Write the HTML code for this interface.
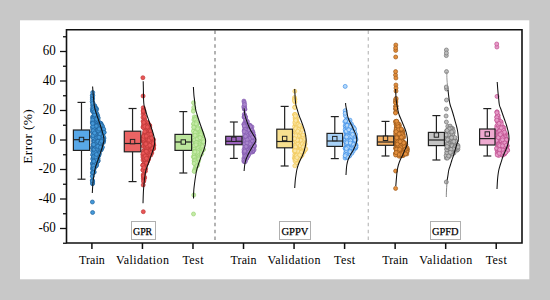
<!DOCTYPE html>
<html><head><meta charset="utf-8"><style>
html,body{margin:0;padding:0;width:550px;height:300px;overflow:hidden;background:#c8c8c8;font-family:"Liberation Serif",serif;}
</style></head><body>
<svg width="550" height="300" viewBox="0 0 550 300" style="position:absolute;left:0;top:0">
<rect x="0" y="0" width="550" height="300" fill="#c8c8c8"/>
<rect x="20" y="20.3" width="509.3" height="259" fill="#ffffff"/>
<line x1="215" y1="29.7" x2="215" y2="243" stroke="#8a8a8a" stroke-width="1.3" stroke-dasharray="3.5 3.367" stroke-dashoffset="6.067"/>
<line x1="368.3" y1="29.7" x2="368.3" y2="243" stroke="#c0c0c0" stroke-width="1.3" stroke-dasharray="3.5 3.367" stroke-dashoffset="6.067"/>
<g fill="#4498d8" stroke="#22649e" stroke-width="0.7"><circle cx="94.9" cy="114.6" r="2.0"/><circle cx="92.3" cy="180.2" r="2.0"/><circle cx="92.7" cy="118.2" r="2.0"/><circle cx="96.6" cy="148.2" r="2.0"/><circle cx="98.8" cy="149.0" r="2.0"/><circle cx="94.3" cy="172.1" r="2.0"/><circle cx="92.6" cy="117.0" r="2.0"/><circle cx="93.1" cy="148.8" r="2.0"/><circle cx="92.4" cy="147.7" r="2.0"/><circle cx="98.0" cy="160.6" r="2.0"/><circle cx="103.6" cy="140.8" r="2.0"/><circle cx="97.1" cy="117.4" r="2.0"/><circle cx="92.4" cy="111.0" r="2.0"/><circle cx="98.0" cy="123.5" r="2.0"/><circle cx="99.3" cy="131.3" r="2.0"/><circle cx="93.7" cy="128.9" r="2.0"/><circle cx="102.1" cy="127.3" r="2.0"/><circle cx="102.2" cy="138.1" r="2.0"/><circle cx="99.0" cy="146.6" r="2.0"/><circle cx="93.8" cy="112.8" r="2.0"/><circle cx="94.8" cy="128.9" r="2.0"/><circle cx="96.8" cy="157.4" r="2.0"/><circle cx="93.4" cy="129.5" r="2.0"/><circle cx="95.0" cy="165.5" r="2.0"/><circle cx="103.4" cy="132.3" r="2.0"/><circle cx="100.0" cy="149.5" r="2.0"/><circle cx="94.4" cy="106.7" r="2.0"/><circle cx="94.8" cy="165.3" r="2.0"/><circle cx="102.5" cy="132.0" r="2.0"/><circle cx="96.3" cy="108.6" r="2.0"/><circle cx="102.1" cy="138.1" r="2.0"/><circle cx="93.4" cy="123.8" r="2.0"/><circle cx="102.5" cy="128.5" r="2.0"/><circle cx="97.0" cy="156.5" r="2.0"/><circle cx="97.9" cy="141.1" r="2.0"/><circle cx="93.2" cy="141.0" r="2.0"/><circle cx="93.6" cy="145.6" r="2.0"/><circle cx="97.9" cy="161.2" r="2.0"/><circle cx="95.3" cy="123.4" r="2.0"/><circle cx="98.3" cy="151.9" r="2.0"/><circle cx="94.3" cy="119.2" r="2.0"/><circle cx="93.9" cy="152.7" r="2.0"/><circle cx="94.6" cy="140.1" r="2.0"/><circle cx="102.3" cy="136.2" r="2.0"/><circle cx="96.4" cy="133.5" r="2.0"/><circle cx="96.8" cy="133.4" r="2.0"/><circle cx="93.1" cy="155.3" r="2.0"/><circle cx="94.0" cy="110.0" r="2.0"/><circle cx="100.6" cy="123.3" r="2.0"/><circle cx="95.7" cy="114.3" r="2.0"/><circle cx="95.1" cy="158.1" r="2.0"/><circle cx="92.9" cy="158.4" r="2.0"/><circle cx="102.0" cy="137.4" r="2.0"/><circle cx="94.3" cy="147.2" r="2.0"/><circle cx="100.8" cy="135.9" r="2.0"/><circle cx="94.1" cy="168.2" r="2.0"/><circle cx="98.2" cy="156.4" r="2.0"/><circle cx="98.9" cy="149.6" r="2.0"/><circle cx="95.5" cy="145.2" r="2.0"/><circle cx="93.9" cy="109.9" r="2.0"/><circle cx="93.0" cy="107.1" r="2.0"/><circle cx="98.6" cy="126.5" r="2.0"/><circle cx="94.0" cy="119.8" r="2.0"/><circle cx="96.5" cy="117.7" r="2.0"/><circle cx="92.4" cy="127.1" r="2.0"/><circle cx="104.0" cy="132.4" r="2.0"/><circle cx="97.2" cy="153.6" r="2.0"/><circle cx="92.9" cy="164.4" r="2.0"/><circle cx="96.9" cy="138.4" r="2.0"/><circle cx="100.3" cy="148.5" r="2.0"/><circle cx="92.7" cy="168.2" r="2.0"/><circle cx="92.8" cy="151.2" r="2.0"/><circle cx="94.7" cy="151.7" r="2.0"/><circle cx="95.8" cy="144.8" r="2.0"/><circle cx="96.7" cy="126.1" r="2.0"/><circle cx="100.1" cy="142.7" r="2.0"/><circle cx="101.9" cy="133.4" r="2.0"/><circle cx="96.1" cy="119.2" r="2.0"/><circle cx="93.1" cy="155.4" r="2.0"/><circle cx="92.3" cy="176.2" r="2.0"/><circle cx="97.0" cy="119.7" r="2.0"/><circle cx="96.9" cy="156.0" r="2.0"/><circle cx="101.4" cy="149.3" r="2.0"/><circle cx="93.3" cy="122.2" r="2.0"/><circle cx="95.2" cy="139.8" r="2.0"/><circle cx="95.5" cy="119.5" r="2.0"/><circle cx="99.0" cy="150.1" r="2.0"/><circle cx="95.8" cy="159.6" r="2.0"/><circle cx="94.6" cy="139.3" r="2.0"/><circle cx="96.3" cy="126.1" r="2.0"/><circle cx="92.3" cy="95.4" r="2.0"/><circle cx="96.6" cy="135.6" r="2.0"/><circle cx="103.2" cy="131.9" r="2.0"/><circle cx="103.0" cy="132.5" r="2.0"/><circle cx="101.0" cy="150.0" r="2.0"/><circle cx="94.9" cy="128.7" r="2.0"/><circle cx="92.4" cy="123.2" r="2.0"/><circle cx="92.3" cy="108.9" r="2.0"/><circle cx="98.5" cy="126.9" r="2.0"/><circle cx="93.8" cy="111.1" r="2.0"/><circle cx="94.0" cy="152.6" r="2.0"/><circle cx="97.4" cy="133.9" r="2.0"/><circle cx="95.7" cy="160.8" r="2.0"/><circle cx="100.9" cy="131.4" r="2.0"/><circle cx="97.3" cy="145.3" r="2.0"/><circle cx="95.8" cy="108.0" r="2.0"/><circle cx="96.8" cy="154.9" r="2.0"/><circle cx="92.3" cy="122.0" r="2.0"/><circle cx="94.5" cy="139.3" r="2.0"/><circle cx="94.0" cy="157.3" r="2.0"/><circle cx="102.1" cy="139.0" r="2.0"/><circle cx="97.8" cy="158.4" r="2.0"/><circle cx="93.6" cy="116.7" r="2.0"/><circle cx="99.2" cy="133.5" r="2.0"/><circle cx="96.9" cy="128.7" r="2.0"/><circle cx="93.3" cy="123.0" r="2.0"/><circle cx="100.8" cy="138.8" r="2.0"/><circle cx="92.4" cy="97.7" r="2.0"/><circle cx="96.1" cy="165.9" r="2.0"/><circle cx="98.5" cy="130.7" r="2.0"/><circle cx="98.9" cy="155.3" r="2.0"/><circle cx="95.9" cy="134.9" r="2.0"/><circle cx="94.3" cy="131.2" r="2.0"/><circle cx="95.8" cy="139.0" r="2.0"/><circle cx="98.8" cy="127.7" r="2.0"/><circle cx="94.4" cy="107.0" r="2.0"/><circle cx="97.1" cy="159.3" r="2.0"/><circle cx="95.3" cy="142.4" r="2.0"/><circle cx="97.1" cy="129.2" r="2.0"/><circle cx="101.0" cy="124.1" r="2.0"/><circle cx="98.0" cy="160.9" r="2.0"/><circle cx="93.9" cy="128.9" r="2.0"/><circle cx="94.7" cy="166.5" r="2.0"/><circle cx="96.6" cy="164.7" r="2.0"/><circle cx="101.8" cy="126.2" r="2.0"/><circle cx="95.7" cy="115.5" r="2.0"/><circle cx="102.5" cy="134.9" r="2.0"/><circle cx="96.5" cy="126.8" r="2.0"/><circle cx="96.7" cy="113.2" r="2.0"/><circle cx="94.2" cy="124.2" r="2.0"/><circle cx="92.8" cy="102.7" r="2.0"/><circle cx="95.1" cy="148.6" r="2.0"/><circle cx="93.5" cy="153.8" r="2.0"/><circle cx="96.6" cy="109.4" r="2.0"/><circle cx="92.7" cy="163.5" r="2.0"/><circle cx="95.5" cy="151.0" r="2.0"/><circle cx="92.5" cy="136.8" r="2.0"/><circle cx="102.7" cy="141.2" r="2.0"/><circle cx="93.9" cy="137.9" r="2.0"/><circle cx="96.9" cy="128.2" r="2.0"/><circle cx="96.0" cy="142.6" r="2.0"/><circle cx="92.7" cy="172.4" r="2.0"/><circle cx="92.7" cy="128.9" r="2.0"/><circle cx="94.1" cy="162.2" r="2.0"/><circle cx="101.3" cy="145.1" r="2.0"/><circle cx="94.6" cy="111.0" r="2.0"/><circle cx="94.8" cy="129.7" r="2.0"/><circle cx="100.9" cy="144.5" r="2.0"/><circle cx="93.6" cy="160.3" r="2.0"/><circle cx="92.6" cy="169.3" r="2.0"/><circle cx="103.4" cy="142.4" r="2.0"/><circle cx="94.4" cy="152.8" r="2.0"/><circle cx="92.5" cy="98.3" r="2.0"/><circle cx="103.6" cy="140.3" r="2.0"/><circle cx="97.5" cy="126.2" r="2.0"/><circle cx="94.8" cy="162.2" r="2.0"/><circle cx="92.9" cy="167.3" r="2.0"/><circle cx="101.2" cy="143.3" r="2.0"/><circle cx="94.6" cy="150.0" r="2.0"/><circle cx="94.5" cy="134.2" r="2.0"/><circle cx="94.2" cy="115.4" r="2.0"/><circle cx="93.5" cy="169.9" r="2.0"/><circle cx="102.5" cy="126.2" r="2.0"/><circle cx="98.2" cy="125.7" r="2.0"/><circle cx="92.6" cy="212.5" r="2.0"/><circle cx="100.4" cy="124.1" r="2.0"/><circle cx="96.6" cy="147.3" r="2.0"/><circle cx="96.5" cy="137.2" r="2.0"/><circle cx="93.3" cy="118.0" r="2.0"/><circle cx="97.3" cy="161.2" r="2.0"/><circle cx="95.2" cy="156.4" r="2.0"/><circle cx="102.4" cy="147.3" r="2.0"/><circle cx="97.7" cy="119.2" r="2.0"/><circle cx="92.7" cy="154.5" r="2.0"/><circle cx="93.4" cy="159.7" r="2.0"/><circle cx="97.5" cy="139.2" r="2.0"/><circle cx="97.5" cy="161.6" r="2.0"/><circle cx="92.7" cy="119.9" r="2.0"/><circle cx="94.6" cy="105.9" r="2.0"/><circle cx="95.7" cy="123.3" r="2.0"/><circle cx="94.5" cy="164.7" r="2.0"/><circle cx="100.1" cy="127.8" r="2.0"/><circle cx="94.9" cy="110.8" r="2.0"/><circle cx="94.4" cy="150.2" r="2.0"/><circle cx="96.9" cy="131.4" r="2.0"/><circle cx="92.9" cy="105.9" r="2.0"/><circle cx="96.2" cy="162.2" r="2.0"/><circle cx="94.7" cy="105.7" r="2.0"/><circle cx="99.5" cy="127.6" r="2.0"/><circle cx="98.4" cy="142.7" r="2.0"/><circle cx="92.6" cy="181.4" r="2.0"/><circle cx="95.3" cy="123.1" r="2.0"/><circle cx="104.0" cy="138.1" r="2.0"/><circle cx="96.2" cy="129.8" r="2.0"/><circle cx="93.8" cy="129.1" r="2.0"/><circle cx="95.0" cy="112.3" r="2.0"/><circle cx="92.4" cy="99.5" r="2.0"/><circle cx="95.3" cy="157.5" r="2.0"/><circle cx="102.7" cy="133.8" r="2.0"/><circle cx="92.4" cy="172.9" r="2.0"/><circle cx="94.0" cy="112.6" r="2.0"/><circle cx="95.5" cy="148.7" r="2.0"/><circle cx="95.5" cy="108.7" r="2.0"/><circle cx="97.9" cy="117.9" r="2.0"/><circle cx="94.6" cy="124.4" r="2.0"/><circle cx="97.9" cy="127.2" r="2.0"/><circle cx="98.2" cy="149.0" r="2.0"/><circle cx="94.1" cy="159.4" r="2.0"/><circle cx="94.7" cy="164.9" r="2.0"/><circle cx="98.5" cy="155.6" r="2.0"/><circle cx="95.5" cy="139.2" r="2.0"/><circle cx="94.9" cy="152.2" r="2.0"/><circle cx="98.3" cy="143.6" r="2.0"/><circle cx="95.6" cy="145.8" r="2.0"/><circle cx="94.3" cy="141.0" r="2.0"/><circle cx="96.6" cy="143.2" r="2.0"/><circle cx="97.2" cy="131.5" r="2.0"/><circle cx="92.8" cy="95.4" r="2.0"/><circle cx="101.1" cy="123.8" r="2.0"/><circle cx="96.6" cy="142.3" r="2.0"/><circle cx="93.1" cy="144.5" r="2.0"/><circle cx="99.4" cy="138.0" r="2.0"/><circle cx="95.3" cy="130.2" r="2.0"/><circle cx="92.5" cy="183.8" r="2.0"/><circle cx="96.4" cy="125.4" r="2.0"/><circle cx="94.1" cy="145.9" r="2.0"/><circle cx="103.0" cy="138.9" r="2.0"/><circle cx="98.1" cy="143.2" r="2.0"/><circle cx="96.5" cy="143.6" r="2.0"/><circle cx="102.1" cy="132.1" r="2.0"/><circle cx="93.2" cy="149.1" r="2.0"/><circle cx="98.4" cy="125.6" r="2.0"/><circle cx="94.6" cy="159.7" r="2.0"/><circle cx="99.3" cy="142.3" r="2.0"/><circle cx="98.0" cy="159.0" r="2.0"/><circle cx="98.1" cy="120.4" r="2.0"/><circle cx="101.2" cy="143.2" r="2.0"/><circle cx="94.1" cy="124.4" r="2.0"/><circle cx="92.5" cy="163.3" r="2.0"/><circle cx="92.6" cy="183.1" r="2.0"/><circle cx="100.5" cy="134.7" r="2.0"/><circle cx="94.5" cy="162.6" r="2.0"/><circle cx="94.3" cy="126.4" r="2.0"/><circle cx="95.0" cy="148.3" r="2.0"/><circle cx="96.0" cy="134.8" r="2.0"/><circle cx="98.2" cy="151.1" r="2.0"/><circle cx="93.9" cy="111.3" r="2.0"/><circle cx="97.9" cy="141.4" r="2.0"/><circle cx="97.6" cy="160.8" r="2.0"/><circle cx="98.6" cy="125.7" r="2.0"/><circle cx="96.0" cy="136.7" r="2.0"/><circle cx="96.8" cy="115.6" r="2.0"/><circle cx="97.9" cy="125.8" r="2.0"/><circle cx="97.7" cy="156.3" r="2.0"/><circle cx="100.3" cy="137.0" r="2.0"/><circle cx="100.3" cy="123.2" r="2.0"/><circle cx="92.9" cy="159.2" r="2.0"/><circle cx="97.6" cy="115.3" r="2.0"/><circle cx="94.5" cy="116.9" r="2.0"/><circle cx="94.3" cy="151.0" r="2.0"/><circle cx="103.7" cy="129.2" r="2.0"/><circle cx="94.5" cy="157.4" r="2.0"/><circle cx="98.2" cy="117.9" r="2.0"/><circle cx="102.2" cy="135.6" r="2.0"/><circle cx="100.6" cy="124.5" r="2.0"/><circle cx="92.8" cy="132.2" r="2.0"/><circle cx="92.4" cy="202.0" r="2.0"/><circle cx="101.2" cy="138.5" r="2.0"/><circle cx="94.0" cy="163.8" r="2.0"/><circle cx="101.7" cy="138.8" r="2.0"/><circle cx="96.1" cy="130.9" r="2.0"/><circle cx="94.6" cy="134.9" r="2.0"/><circle cx="100.7" cy="149.1" r="2.0"/><circle cx="96.7" cy="149.4" r="2.0"/><circle cx="95.6" cy="146.0" r="2.0"/><circle cx="95.3" cy="116.2" r="2.0"/><circle cx="92.6" cy="131.9" r="2.0"/><circle cx="96.6" cy="116.0" r="2.0"/><circle cx="99.9" cy="129.4" r="2.0"/><circle cx="93.7" cy="152.9" r="2.0"/><circle cx="101.0" cy="133.5" r="2.0"/><circle cx="94.3" cy="127.6" r="2.0"/><circle cx="94.3" cy="138.5" r="2.0"/><circle cx="92.6" cy="105.1" r="2.0"/><circle cx="93.4" cy="105.3" r="2.0"/><circle cx="99.3" cy="136.4" r="2.0"/><circle cx="94.2" cy="149.4" r="2.0"/><circle cx="97.1" cy="130.4" r="2.0"/><circle cx="99.2" cy="133.2" r="2.0"/><circle cx="93.2" cy="130.7" r="2.0"/><circle cx="95.9" cy="152.6" r="2.0"/><circle cx="92.5" cy="181.0" r="2.0"/><circle cx="101.1" cy="125.3" r="2.0"/><circle cx="93.2" cy="135.8" r="2.0"/><circle cx="95.8" cy="147.0" r="2.0"/><circle cx="94.9" cy="110.3" r="2.0"/><circle cx="93.0" cy="137.6" r="2.0"/><circle cx="96.9" cy="137.2" r="2.0"/><circle cx="93.0" cy="111.1" r="2.0"/><circle cx="99.3" cy="128.8" r="2.0"/><circle cx="96.7" cy="146.2" r="2.0"/><circle cx="98.8" cy="136.5" r="2.0"/><circle cx="92.2" cy="101.6" r="2.0"/><circle cx="93.7" cy="157.9" r="2.0"/><circle cx="93.5" cy="172.7" r="2.0"/><circle cx="100.1" cy="134.1" r="2.0"/><circle cx="95.1" cy="134.3" r="2.0"/><circle cx="92.7" cy="92.5" r="2.0"/><circle cx="93.1" cy="166.0" r="2.0"/><circle cx="104.1" cy="132.4" r="2.0"/><circle cx="100.5" cy="142.4" r="2.0"/><circle cx="93.2" cy="107.8" r="2.0"/><circle cx="93.0" cy="165.6" r="2.0"/><circle cx="96.3" cy="165.5" r="2.0"/><circle cx="93.5" cy="109.7" r="2.0"/><circle cx="96.2" cy="126.1" r="2.0"/><circle cx="98.8" cy="150.6" r="2.0"/><circle cx="97.8" cy="149.2" r="2.0"/><circle cx="94.8" cy="156.7" r="2.0"/><circle cx="102.8" cy="141.0" r="2.0"/><circle cx="95.3" cy="163.6" r="2.0"/><circle cx="93.0" cy="135.6" r="2.0"/><circle cx="96.6" cy="159.9" r="2.0"/><circle cx="93.7" cy="156.7" r="2.0"/><circle cx="95.9" cy="156.9" r="2.0"/><circle cx="99.9" cy="149.0" r="2.0"/><circle cx="93.6" cy="161.5" r="2.0"/><circle cx="99.5" cy="153.6" r="2.0"/><circle cx="98.4" cy="130.7" r="2.0"/><circle cx="92.8" cy="103.2" r="2.0"/><circle cx="103.2" cy="136.2" r="2.0"/><circle cx="99.0" cy="137.3" r="2.0"/><circle cx="93.8" cy="161.3" r="2.0"/><circle cx="93.7" cy="144.6" r="2.0"/><circle cx="97.8" cy="146.3" r="2.0"/><circle cx="99.1" cy="129.0" r="2.0"/><circle cx="94.5" cy="114.7" r="2.0"/><circle cx="100.3" cy="143.0" r="2.0"/><circle cx="94.7" cy="114.8" r="2.0"/><circle cx="93.1" cy="122.9" r="2.0"/><circle cx="93.6" cy="165.9" r="2.0"/><circle cx="92.9" cy="126.4" r="2.0"/><circle cx="94.1" cy="168.6" r="2.0"/><circle cx="96.5" cy="154.4" r="2.0"/><circle cx="100.7" cy="148.4" r="2.0"/><circle cx="94.6" cy="133.0" r="2.0"/><circle cx="100.5" cy="147.3" r="2.0"/><circle cx="96.7" cy="119.1" r="2.0"/><circle cx="94.6" cy="111.5" r="2.0"/><circle cx="103.5" cy="139.5" r="2.0"/><circle cx="92.7" cy="123.5" r="2.0"/><circle cx="101.5" cy="141.3" r="2.0"/></g>
<path d="M92.60,86.50C92.70,87.92 93.02,92.75 93.20,95.00C93.38,97.25 93.53,98.33 93.70,100.00C93.87,101.67 93.95,103.33 94.20,105.00C94.45,106.67 94.77,108.33 95.20,110.00C95.63,111.67 96.25,113.33 96.80,115.00C97.35,116.67 97.92,118.33 98.50,120.00C99.08,121.67 99.75,123.33 100.30,125.00C100.85,126.67 101.32,128.33 101.80,130.00C102.28,131.67 102.83,133.33 103.20,135.00C103.57,136.67 104.05,138.33 104.00,140.00C103.95,141.67 103.33,143.33 102.90,145.00C102.47,146.67 101.93,148.33 101.40,150.00C100.87,151.67 100.28,153.33 99.70,155.00C99.12,156.67 98.48,158.33 97.90,160.00C97.32,161.67 96.72,163.33 96.20,165.00C95.68,166.67 95.17,168.33 94.80,170.00C94.43,171.67 94.27,173.33 94.00,175.00C93.73,176.67 93.42,178.17 93.20,180.00C92.98,181.83 92.85,183.83 92.70,186.00C92.55,188.17 92.37,191.83 92.30,193.00" fill="none" stroke="#111" stroke-width="1.05"/>
<line x1="81.50" y1="102.4" x2="81.50" y2="179.2" stroke="#222" stroke-width="1.2"/>
<line x1="77.50" y1="102.4" x2="85.50" y2="102.4" stroke="#222" stroke-width="1.2"/>
<line x1="77.50" y1="179.2" x2="85.50" y2="179.2" stroke="#222" stroke-width="1.2"/>
<rect x="73.4" y="130" width="16.20" height="20.40" fill="#58a8e8" stroke="#222" stroke-width="1.2"/>
<line x1="73.4" y1="139.7" x2="89.6" y2="139.7" stroke="#222" stroke-width="1.2"/>
<rect x="79.30" y="137.30" width="4.4" height="4.4" fill="#58a8e8" stroke="#222" stroke-width="1"/>
<g fill="#e85656" stroke="#c03a3a" stroke-width="0.7"><circle cx="147.5" cy="133.3" r="2.0"/><circle cx="148.2" cy="123.5" r="2.0"/><circle cx="150.4" cy="131.6" r="2.0"/><circle cx="144.7" cy="137.9" r="2.0"/><circle cx="146.3" cy="162.8" r="2.0"/><circle cx="147.3" cy="152.5" r="2.0"/><circle cx="150.6" cy="134.6" r="2.0"/><circle cx="150.5" cy="151.0" r="2.0"/><circle cx="147.0" cy="139.1" r="2.0"/><circle cx="144.5" cy="120.0" r="2.0"/><circle cx="145.9" cy="159.4" r="2.0"/><circle cx="144.4" cy="150.3" r="2.0"/><circle cx="143.3" cy="140.7" r="2.0"/><circle cx="143.2" cy="165.4" r="2.0"/><circle cx="145.9" cy="151.9" r="2.0"/><circle cx="144.4" cy="163.1" r="2.0"/><circle cx="144.0" cy="155.5" r="2.0"/><circle cx="147.6" cy="146.6" r="2.0"/><circle cx="145.7" cy="125.6" r="2.0"/><circle cx="143.3" cy="211.7" r="2.0"/><circle cx="143.0" cy="160.1" r="2.0"/><circle cx="142.8" cy="137.6" r="2.0"/><circle cx="146.8" cy="137.0" r="2.0"/><circle cx="145.5" cy="140.1" r="2.0"/><circle cx="144.9" cy="123.9" r="2.0"/><circle cx="144.1" cy="164.3" r="2.0"/><circle cx="148.0" cy="154.1" r="2.0"/><circle cx="145.8" cy="164.7" r="2.0"/><circle cx="151.1" cy="135.4" r="2.0"/><circle cx="143.0" cy="117.4" r="2.0"/><circle cx="147.1" cy="160.8" r="2.0"/><circle cx="147.7" cy="143.5" r="2.0"/><circle cx="147.2" cy="124.4" r="2.0"/><circle cx="149.8" cy="136.7" r="2.0"/><circle cx="146.7" cy="155.6" r="2.0"/><circle cx="149.7" cy="125.4" r="2.0"/><circle cx="146.3" cy="137.6" r="2.0"/><circle cx="144.5" cy="160.1" r="2.0"/><circle cx="150.5" cy="144.3" r="2.0"/><circle cx="144.8" cy="127.6" r="2.0"/><circle cx="144.1" cy="125.4" r="2.0"/><circle cx="146.3" cy="135.1" r="2.0"/><circle cx="143.6" cy="111.3" r="2.0"/><circle cx="143.8" cy="110.2" r="2.0"/><circle cx="143.5" cy="151.0" r="2.0"/><circle cx="147.1" cy="140.1" r="2.0"/><circle cx="148.0" cy="150.0" r="2.0"/><circle cx="150.6" cy="140.5" r="2.0"/><circle cx="150.5" cy="149.4" r="2.0"/><circle cx="144.9" cy="134.5" r="2.0"/><circle cx="153.2" cy="147.7" r="2.0"/><circle cx="150.4" cy="149.6" r="2.0"/><circle cx="144.6" cy="127.1" r="2.0"/><circle cx="149.5" cy="125.5" r="2.0"/><circle cx="144.8" cy="139.1" r="2.0"/><circle cx="146.6" cy="163.4" r="2.0"/><circle cx="147.4" cy="122.5" r="2.0"/><circle cx="144.4" cy="145.1" r="2.0"/><circle cx="144.7" cy="155.5" r="2.0"/><circle cx="148.8" cy="138.7" r="2.0"/><circle cx="143.8" cy="157.1" r="2.0"/><circle cx="147.5" cy="132.9" r="2.0"/><circle cx="144.1" cy="120.5" r="2.0"/><circle cx="142.9" cy="165.1" r="2.0"/><circle cx="144.5" cy="169.1" r="2.0"/><circle cx="153.6" cy="148.7" r="2.0"/><circle cx="143.2" cy="107.7" r="2.0"/><circle cx="142.8" cy="154.6" r="2.0"/><circle cx="148.3" cy="133.7" r="2.0"/><circle cx="147.8" cy="139.5" r="2.0"/><circle cx="146.5" cy="128.2" r="2.0"/><circle cx="144.4" cy="133.5" r="2.0"/><circle cx="145.2" cy="159.2" r="2.0"/><circle cx="146.4" cy="159.2" r="2.0"/><circle cx="147.3" cy="153.5" r="2.0"/><circle cx="143.7" cy="110.7" r="2.0"/><circle cx="146.3" cy="156.2" r="2.0"/><circle cx="146.2" cy="137.3" r="2.0"/><circle cx="142.9" cy="77.7" r="2.0"/><circle cx="146.7" cy="135.0" r="2.0"/><circle cx="146.2" cy="135.8" r="2.0"/><circle cx="147.8" cy="156.0" r="2.0"/><circle cx="149.9" cy="144.1" r="2.0"/><circle cx="144.6" cy="139.3" r="2.0"/><circle cx="148.3" cy="128.5" r="2.0"/><circle cx="146.9" cy="160.3" r="2.0"/><circle cx="149.8" cy="127.2" r="2.0"/><circle cx="145.4" cy="151.0" r="2.0"/><circle cx="143.0" cy="127.0" r="2.0"/><circle cx="145.8" cy="128.8" r="2.0"/><circle cx="143.3" cy="146.3" r="2.0"/><circle cx="143.2" cy="175.0" r="2.0"/><circle cx="146.9" cy="149.7" r="2.0"/><circle cx="150.1" cy="150.6" r="2.0"/><circle cx="143.1" cy="114.1" r="2.0"/><circle cx="144.3" cy="123.7" r="2.0"/><circle cx="147.9" cy="160.2" r="2.0"/><circle cx="147.9" cy="127.4" r="2.0"/><circle cx="149.4" cy="137.1" r="2.0"/><circle cx="145.2" cy="153.1" r="2.0"/><circle cx="145.8" cy="157.1" r="2.0"/><circle cx="151.7" cy="148.7" r="2.0"/><circle cx="144.4" cy="153.4" r="2.0"/><circle cx="144.7" cy="177.9" r="2.0"/><circle cx="146.1" cy="154.7" r="2.0"/><circle cx="148.0" cy="129.2" r="2.0"/><circle cx="142.9" cy="157.0" r="2.0"/><circle cx="143.8" cy="112.5" r="2.0"/><circle cx="143.5" cy="164.3" r="2.0"/><circle cx="144.0" cy="176.8" r="2.0"/><circle cx="147.0" cy="136.7" r="2.0"/><circle cx="143.3" cy="110.3" r="2.0"/><circle cx="146.1" cy="142.4" r="2.0"/><circle cx="148.7" cy="155.2" r="2.0"/><circle cx="144.8" cy="129.0" r="2.0"/><circle cx="146.9" cy="162.1" r="2.0"/><circle cx="145.8" cy="157.8" r="2.0"/><circle cx="147.6" cy="154.8" r="2.0"/><circle cx="149.4" cy="144.1" r="2.0"/><circle cx="145.5" cy="152.8" r="2.0"/><circle cx="149.5" cy="139.4" r="2.0"/><circle cx="146.3" cy="156.7" r="2.0"/><circle cx="153.8" cy="145.2" r="2.0"/><circle cx="147.7" cy="139.9" r="2.0"/><circle cx="148.3" cy="159.6" r="2.0"/><circle cx="153.5" cy="139.6" r="2.0"/><circle cx="143.9" cy="176.5" r="2.0"/><circle cx="152.1" cy="147.8" r="2.0"/><circle cx="144.5" cy="163.0" r="2.0"/><circle cx="151.8" cy="153.0" r="2.0"/><circle cx="143.1" cy="96.0" r="2.0"/><circle cx="148.9" cy="146.5" r="2.0"/><circle cx="143.7" cy="174.2" r="2.0"/><circle cx="145.5" cy="164.3" r="2.0"/><circle cx="150.3" cy="130.9" r="2.0"/><circle cx="147.0" cy="134.2" r="2.0"/><circle cx="147.9" cy="152.6" r="2.0"/><circle cx="146.9" cy="149.1" r="2.0"/><circle cx="145.4" cy="146.0" r="2.0"/><circle cx="146.2" cy="157.1" r="2.0"/><circle cx="143.7" cy="135.5" r="2.0"/><circle cx="142.8" cy="140.6" r="2.0"/><circle cx="150.4" cy="143.7" r="2.0"/><circle cx="145.3" cy="156.7" r="2.0"/><circle cx="148.5" cy="155.8" r="2.0"/><circle cx="150.3" cy="141.7" r="2.0"/><circle cx="148.6" cy="158.3" r="2.0"/><circle cx="147.7" cy="143.0" r="2.0"/><circle cx="143.6" cy="142.0" r="2.0"/><circle cx="144.3" cy="121.6" r="2.0"/><circle cx="143.9" cy="141.5" r="2.0"/><circle cx="146.2" cy="126.5" r="2.0"/><circle cx="149.3" cy="138.4" r="2.0"/><circle cx="145.9" cy="162.2" r="2.0"/><circle cx="148.3" cy="144.3" r="2.0"/><circle cx="147.5" cy="161.5" r="2.0"/><circle cx="149.5" cy="154.4" r="2.0"/><circle cx="147.9" cy="125.8" r="2.0"/><circle cx="145.5" cy="125.3" r="2.0"/><circle cx="142.9" cy="169.8" r="2.0"/><circle cx="146.8" cy="150.6" r="2.0"/><circle cx="146.6" cy="163.1" r="2.0"/><circle cx="143.6" cy="124.1" r="2.0"/><circle cx="146.0" cy="151.7" r="2.0"/><circle cx="144.6" cy="119.0" r="2.0"/><circle cx="145.0" cy="159.5" r="2.0"/><circle cx="146.5" cy="156.1" r="2.0"/><circle cx="146.0" cy="147.2" r="2.0"/><circle cx="144.5" cy="116.5" r="2.0"/><circle cx="143.3" cy="178.8" r="2.0"/><circle cx="145.7" cy="168.8" r="2.0"/><circle cx="148.1" cy="159.3" r="2.0"/><circle cx="143.8" cy="111.6" r="2.0"/><circle cx="143.8" cy="125.3" r="2.0"/><circle cx="146.1" cy="151.5" r="2.0"/><circle cx="145.7" cy="130.0" r="2.0"/><circle cx="149.0" cy="140.0" r="2.0"/><circle cx="153.7" cy="145.0" r="2.0"/><circle cx="153.3" cy="148.1" r="2.0"/><circle cx="146.1" cy="131.1" r="2.0"/><circle cx="151.6" cy="145.7" r="2.0"/><circle cx="145.1" cy="139.1" r="2.0"/><circle cx="145.2" cy="132.1" r="2.0"/><circle cx="143.1" cy="121.3" r="2.0"/><circle cx="150.7" cy="155.2" r="2.0"/><circle cx="143.4" cy="127.6" r="2.0"/><circle cx="147.0" cy="152.3" r="2.0"/><circle cx="151.5" cy="152.2" r="2.0"/><circle cx="143.3" cy="176.9" r="2.0"/><circle cx="146.0" cy="134.7" r="2.0"/><circle cx="143.3" cy="153.3" r="2.0"/><circle cx="148.0" cy="134.7" r="2.0"/><circle cx="145.0" cy="121.6" r="2.0"/><circle cx="144.7" cy="159.2" r="2.0"/><circle cx="143.2" cy="185.0" r="2.0"/><circle cx="144.8" cy="126.5" r="2.0"/><circle cx="153.2" cy="142.1" r="2.0"/><circle cx="153.2" cy="143.5" r="2.0"/><circle cx="143.9" cy="180.7" r="2.0"/><circle cx="152.6" cy="148.5" r="2.0"/><circle cx="146.3" cy="151.3" r="2.0"/><circle cx="144.7" cy="131.6" r="2.0"/><circle cx="143.7" cy="140.9" r="2.0"/><circle cx="143.7" cy="139.6" r="2.0"/><circle cx="143.0" cy="170.3" r="2.0"/><circle cx="149.4" cy="146.0" r="2.0"/><circle cx="147.3" cy="147.1" r="2.0"/><circle cx="146.5" cy="158.4" r="2.0"/><circle cx="144.1" cy="157.0" r="2.0"/><circle cx="147.5" cy="145.6" r="2.0"/><circle cx="145.4" cy="171.3" r="2.0"/><circle cx="143.5" cy="140.0" r="2.0"/><circle cx="143.4" cy="165.4" r="2.0"/><circle cx="143.8" cy="175.8" r="2.0"/><circle cx="145.2" cy="156.0" r="2.0"/><circle cx="150.9" cy="134.2" r="2.0"/><circle cx="142.8" cy="165.4" r="2.0"/><circle cx="143.0" cy="138.6" r="2.0"/><circle cx="143.2" cy="111.1" r="2.0"/><circle cx="146.4" cy="158.4" r="2.0"/><circle cx="143.7" cy="136.3" r="2.0"/><circle cx="143.8" cy="122.4" r="2.0"/><circle cx="146.2" cy="136.1" r="2.0"/><circle cx="144.0" cy="167.7" r="2.0"/><circle cx="149.8" cy="145.3" r="2.0"/><circle cx="145.8" cy="143.9" r="2.0"/><circle cx="151.5" cy="138.1" r="2.0"/><circle cx="147.4" cy="127.0" r="2.0"/><circle cx="143.5" cy="181.5" r="2.0"/></g>
<path d="M143.20,81.30C143.23,82.75 143.33,86.88 143.40,90.00C143.47,93.12 143.50,97.50 143.60,100.00C143.70,102.50 143.70,103.33 144.00,105.00C144.30,106.67 144.92,108.33 145.40,110.00C145.88,111.67 146.37,113.33 146.90,115.00C147.43,116.67 148.03,118.33 148.60,120.00C149.17,121.67 149.72,123.33 150.30,125.00C150.88,126.67 151.55,128.33 152.10,130.00C152.65,131.67 153.17,133.33 153.60,135.00C154.03,136.67 154.57,138.33 154.70,140.00C154.83,141.67 154.68,143.33 154.40,145.00C154.12,146.67 153.52,148.33 153.00,150.00C152.48,151.67 151.88,153.33 151.30,155.00C150.72,156.67 150.08,158.33 149.50,160.00C148.92,161.67 148.38,163.33 147.80,165.00C147.22,166.67 146.47,168.33 146.00,170.00C145.53,171.67 145.27,173.33 145.00,175.00C144.73,176.67 144.65,177.50 144.40,180.00C144.15,182.50 143.73,186.12 143.50,190.00C143.27,193.88 143.08,201.08 143.00,203.30" fill="none" stroke="#111" stroke-width="1.05"/>
<line x1="132.55" y1="108.5" x2="132.55" y2="181.6" stroke="#222" stroke-width="1.2"/>
<line x1="128.55" y1="108.5" x2="136.55" y2="108.5" stroke="#222" stroke-width="1.2"/>
<line x1="128.55" y1="181.6" x2="136.55" y2="181.6" stroke="#222" stroke-width="1.2"/>
<rect x="124.3" y="131.2" width="16.50" height="20.60" fill="#ea6464" stroke="#222" stroke-width="1.2"/>
<line x1="124.3" y1="143.5" x2="140.8" y2="143.5" stroke="#222" stroke-width="1.2"/>
<rect x="130.35" y="139.40" width="4.4" height="4.4" fill="#ea6464" stroke="#222" stroke-width="1"/>
<g fill="#c4eaa6" stroke="#9ed67a" stroke-width="0.7"><circle cx="201.0" cy="132.1" r="2.0"/><circle cx="195.7" cy="127.2" r="2.0"/><circle cx="199.0" cy="144.3" r="2.0"/><circle cx="198.1" cy="145.1" r="2.0"/><circle cx="197.8" cy="158.9" r="2.0"/><circle cx="193.8" cy="195.0" r="2.0"/><circle cx="195.1" cy="168.1" r="2.0"/><circle cx="201.9" cy="146.7" r="2.0"/><circle cx="200.3" cy="131.3" r="2.0"/><circle cx="196.1" cy="124.7" r="2.0"/><circle cx="195.2" cy="148.0" r="2.0"/><circle cx="194.0" cy="129.8" r="2.0"/><circle cx="201.0" cy="144.8" r="2.0"/><circle cx="196.6" cy="161.5" r="2.0"/><circle cx="194.8" cy="142.7" r="2.0"/><circle cx="202.4" cy="141.8" r="2.0"/><circle cx="200.2" cy="137.1" r="2.0"/><circle cx="199.0" cy="149.2" r="2.0"/><circle cx="196.7" cy="147.6" r="2.0"/><circle cx="202.1" cy="139.7" r="2.0"/><circle cx="197.1" cy="150.7" r="2.0"/><circle cx="202.2" cy="138.1" r="2.0"/><circle cx="197.9" cy="146.4" r="2.0"/><circle cx="195.7" cy="130.8" r="2.0"/><circle cx="196.8" cy="154.0" r="2.0"/><circle cx="200.4" cy="153.7" r="2.0"/><circle cx="198.0" cy="141.9" r="2.0"/><circle cx="194.8" cy="169.7" r="2.0"/><circle cx="195.4" cy="164.9" r="2.0"/><circle cx="196.1" cy="145.1" r="2.0"/><circle cx="199.8" cy="141.2" r="2.0"/><circle cx="198.8" cy="129.1" r="2.0"/><circle cx="194.3" cy="150.7" r="2.0"/><circle cx="202.9" cy="149.5" r="2.0"/><circle cx="193.7" cy="109.8" r="2.0"/><circle cx="199.1" cy="136.2" r="2.0"/><circle cx="202.0" cy="134.1" r="2.0"/><circle cx="195.4" cy="117.4" r="2.0"/><circle cx="197.7" cy="135.1" r="2.0"/><circle cx="201.8" cy="133.3" r="2.0"/><circle cx="195.3" cy="170.0" r="2.0"/><circle cx="197.6" cy="164.2" r="2.0"/><circle cx="196.7" cy="139.3" r="2.0"/><circle cx="194.8" cy="134.6" r="2.0"/><circle cx="201.5" cy="145.5" r="2.0"/><circle cx="194.6" cy="158.4" r="2.0"/><circle cx="194.4" cy="139.2" r="2.0"/><circle cx="202.1" cy="145.5" r="2.0"/><circle cx="201.7" cy="147.6" r="2.0"/><circle cx="194.5" cy="135.9" r="2.0"/><circle cx="202.3" cy="137.9" r="2.0"/><circle cx="193.8" cy="138.0" r="2.0"/><circle cx="193.6" cy="124.3" r="2.0"/><circle cx="193.4" cy="146.5" r="2.0"/><circle cx="197.5" cy="153.0" r="2.0"/><circle cx="200.7" cy="154.8" r="2.0"/><circle cx="194.3" cy="116.9" r="2.0"/><circle cx="193.4" cy="111.3" r="2.0"/><circle cx="193.8" cy="107.4" r="2.0"/><circle cx="201.5" cy="138.5" r="2.0"/><circle cx="194.6" cy="145.4" r="2.0"/><circle cx="198.4" cy="146.4" r="2.0"/><circle cx="194.9" cy="163.3" r="2.0"/><circle cx="197.2" cy="155.8" r="2.0"/><circle cx="197.6" cy="141.7" r="2.0"/><circle cx="201.3" cy="136.8" r="2.0"/><circle cx="194.9" cy="125.2" r="2.0"/><circle cx="194.8" cy="119.0" r="2.0"/><circle cx="194.9" cy="124.3" r="2.0"/><circle cx="202.5" cy="136.2" r="2.0"/><circle cx="195.2" cy="156.3" r="2.0"/><circle cx="200.7" cy="131.1" r="2.0"/><circle cx="194.4" cy="147.9" r="2.0"/><circle cx="196.7" cy="132.6" r="2.0"/><circle cx="198.0" cy="150.4" r="2.0"/><circle cx="200.3" cy="130.8" r="2.0"/><circle cx="194.8" cy="162.4" r="2.0"/><circle cx="194.5" cy="170.7" r="2.0"/><circle cx="196.0" cy="138.6" r="2.0"/><circle cx="197.7" cy="156.1" r="2.0"/><circle cx="198.4" cy="128.2" r="2.0"/><circle cx="200.7" cy="132.5" r="2.0"/><circle cx="195.0" cy="125.1" r="2.0"/><circle cx="196.1" cy="162.3" r="2.0"/><circle cx="199.0" cy="143.8" r="2.0"/><circle cx="202.9" cy="139.4" r="2.0"/><circle cx="196.8" cy="124.7" r="2.0"/><circle cx="196.5" cy="154.6" r="2.0"/><circle cx="196.0" cy="153.0" r="2.0"/><circle cx="193.3" cy="156.8" r="2.0"/><circle cx="201.1" cy="135.5" r="2.0"/><circle cx="194.4" cy="154.2" r="2.0"/><circle cx="193.4" cy="131.2" r="2.0"/><circle cx="194.4" cy="151.5" r="2.0"/><circle cx="198.4" cy="131.4" r="2.0"/><circle cx="197.2" cy="147.2" r="2.0"/><circle cx="196.1" cy="162.6" r="2.0"/><circle cx="194.1" cy="156.4" r="2.0"/><circle cx="197.9" cy="152.9" r="2.0"/><circle cx="201.1" cy="133.1" r="2.0"/><circle cx="196.1" cy="132.2" r="2.0"/><circle cx="202.6" cy="146.6" r="2.0"/><circle cx="197.3" cy="165.6" r="2.0"/><circle cx="193.8" cy="139.9" r="2.0"/><circle cx="197.2" cy="136.7" r="2.0"/><circle cx="194.2" cy="157.2" r="2.0"/><circle cx="200.7" cy="134.8" r="2.0"/><circle cx="194.9" cy="159.9" r="2.0"/><circle cx="195.4" cy="117.9" r="2.0"/><circle cx="193.6" cy="137.8" r="2.0"/><circle cx="198.2" cy="142.7" r="2.0"/><circle cx="197.8" cy="154.0" r="2.0"/><circle cx="195.1" cy="151.4" r="2.0"/><circle cx="194.7" cy="140.1" r="2.0"/><circle cx="198.6" cy="139.5" r="2.0"/><circle cx="195.8" cy="142.4" r="2.0"/><circle cx="195.8" cy="143.7" r="2.0"/><circle cx="203.5" cy="141.7" r="2.0"/><circle cx="193.9" cy="119.8" r="2.0"/><circle cx="196.7" cy="125.0" r="2.0"/><circle cx="194.1" cy="160.6" r="2.0"/><circle cx="195.4" cy="119.5" r="2.0"/><circle cx="198.4" cy="161.3" r="2.0"/><circle cx="199.7" cy="137.6" r="2.0"/><circle cx="198.9" cy="159.0" r="2.0"/><circle cx="194.0" cy="153.3" r="2.0"/><circle cx="194.6" cy="140.1" r="2.0"/><circle cx="203.5" cy="149.6" r="2.0"/><circle cx="197.2" cy="128.1" r="2.0"/><circle cx="196.6" cy="122.0" r="2.0"/><circle cx="196.5" cy="152.8" r="2.0"/><circle cx="197.2" cy="139.1" r="2.0"/><circle cx="194.6" cy="134.0" r="2.0"/><circle cx="197.4" cy="126.9" r="2.0"/><circle cx="196.7" cy="134.3" r="2.0"/><circle cx="196.9" cy="142.4" r="2.0"/><circle cx="195.7" cy="145.8" r="2.0"/><circle cx="196.2" cy="131.4" r="2.0"/><circle cx="196.2" cy="132.7" r="2.0"/><circle cx="197.7" cy="152.1" r="2.0"/><circle cx="196.1" cy="142.7" r="2.0"/><circle cx="193.7" cy="123.7" r="2.0"/><circle cx="194.4" cy="127.1" r="2.0"/><circle cx="200.0" cy="137.7" r="2.0"/><circle cx="195.2" cy="132.5" r="2.0"/><circle cx="193.8" cy="127.1" r="2.0"/><circle cx="195.1" cy="135.4" r="2.0"/><circle cx="194.8" cy="162.5" r="2.0"/><circle cx="194.2" cy="171.4" r="2.0"/><circle cx="194.1" cy="145.7" r="2.0"/><circle cx="193.5" cy="214.0" r="2.0"/><circle cx="201.6" cy="153.7" r="2.0"/><circle cx="194.9" cy="160.9" r="2.0"/><circle cx="193.5" cy="102.7" r="2.0"/><circle cx="194.9" cy="151.9" r="2.0"/><circle cx="196.1" cy="123.8" r="2.0"/><circle cx="197.7" cy="128.8" r="2.0"/><circle cx="196.0" cy="162.6" r="2.0"/><circle cx="194.1" cy="163.4" r="2.0"/><circle cx="193.8" cy="127.3" r="2.0"/><circle cx="196.0" cy="144.8" r="2.0"/><circle cx="197.0" cy="165.8" r="2.0"/></g>
<path d="M193.40,87.00C193.48,88.33 193.72,92.83 193.90,95.00C194.08,97.17 194.32,98.33 194.50,100.00C194.68,101.67 194.78,103.33 195.00,105.00C195.22,106.67 195.43,108.33 195.80,110.00C196.17,111.67 196.70,113.33 197.20,115.00C197.70,116.67 198.25,118.33 198.80,120.00C199.35,121.67 199.92,123.33 200.50,125.00C201.08,126.67 201.72,128.33 202.30,130.00C202.88,131.67 203.45,133.33 204.00,135.00C204.55,136.67 205.40,138.33 205.60,140.00C205.80,141.67 205.50,143.33 205.20,145.00C204.90,146.67 204.38,148.33 203.80,150.00C203.22,151.67 202.35,153.33 201.70,155.00C201.05,156.67 200.48,158.33 199.90,160.00C199.32,161.67 198.73,163.33 198.20,165.00C197.67,166.67 197.10,168.33 196.70,170.00C196.30,171.67 196.08,173.33 195.80,175.00C195.52,176.67 195.33,177.50 195.00,180.00C194.67,182.50 194.05,186.90 193.80,190.00C193.55,193.10 193.55,197.17 193.50,198.60" fill="none" stroke="#111" stroke-width="1.05"/>
<line x1="183.30" y1="111.6" x2="183.30" y2="173" stroke="#222" stroke-width="1.2"/>
<line x1="179.30" y1="111.6" x2="187.30" y2="111.6" stroke="#222" stroke-width="1.2"/>
<line x1="179.30" y1="173" x2="187.30" y2="173" stroke="#222" stroke-width="1.2"/>
<rect x="175" y="134.4" width="16.60" height="16.00" fill="#bce69c" stroke="#222" stroke-width="1.2"/>
<line x1="175" y1="142" x2="191.6" y2="142" stroke="#222" stroke-width="1.2"/>
<rect x="181.10" y="139.80" width="4.4" height="4.4" fill="#bce69c" stroke="#222" stroke-width="1"/>
<g fill="#a884cc" stroke="#845cb0" stroke-width="0.7"><circle cx="249.4" cy="147.0" r="2.0"/><circle cx="250.0" cy="127.0" r="2.0"/><circle cx="248.6" cy="148.0" r="2.0"/><circle cx="244.0" cy="107.4" r="2.0"/><circle cx="245.0" cy="122.0" r="2.0"/><circle cx="252.8" cy="151.6" r="2.0"/><circle cx="245.9" cy="126.1" r="2.0"/><circle cx="244.6" cy="115.1" r="2.0"/><circle cx="248.7" cy="151.8" r="2.0"/><circle cx="245.9" cy="149.8" r="2.0"/><circle cx="244.6" cy="138.2" r="2.0"/><circle cx="253.8" cy="146.2" r="2.0"/><circle cx="245.8" cy="140.2" r="2.0"/><circle cx="245.6" cy="146.4" r="2.0"/><circle cx="251.8" cy="143.6" r="2.0"/><circle cx="245.3" cy="161.0" r="2.0"/><circle cx="246.7" cy="132.0" r="2.0"/><circle cx="247.6" cy="144.8" r="2.0"/><circle cx="249.7" cy="146.6" r="2.0"/><circle cx="250.2" cy="136.0" r="2.0"/><circle cx="249.9" cy="144.3" r="2.0"/><circle cx="251.1" cy="143.2" r="2.0"/><circle cx="243.9" cy="158.4" r="2.0"/><circle cx="252.6" cy="137.3" r="2.0"/><circle cx="248.9" cy="143.9" r="2.0"/><circle cx="247.8" cy="150.7" r="2.0"/><circle cx="247.5" cy="135.7" r="2.0"/><circle cx="250.6" cy="146.5" r="2.0"/><circle cx="254.0" cy="141.8" r="2.0"/><circle cx="250.5" cy="135.1" r="2.0"/><circle cx="244.9" cy="116.6" r="2.0"/><circle cx="250.6" cy="131.4" r="2.0"/><circle cx="244.6" cy="136.0" r="2.0"/><circle cx="244.1" cy="142.7" r="2.0"/><circle cx="248.7" cy="133.4" r="2.0"/><circle cx="250.6" cy="143.5" r="2.0"/><circle cx="248.9" cy="149.7" r="2.0"/><circle cx="251.3" cy="148.8" r="2.0"/><circle cx="249.9" cy="132.1" r="2.0"/><circle cx="250.5" cy="135.2" r="2.0"/><circle cx="248.3" cy="147.9" r="2.0"/><circle cx="246.5" cy="132.0" r="2.0"/><circle cx="251.4" cy="142.4" r="2.0"/><circle cx="254.0" cy="142.3" r="2.0"/><circle cx="246.0" cy="144.6" r="2.0"/><circle cx="246.2" cy="147.0" r="2.0"/><circle cx="246.1" cy="143.3" r="2.0"/><circle cx="246.1" cy="121.1" r="2.0"/><circle cx="244.0" cy="161.6" r="2.0"/><circle cx="243.9" cy="160.3" r="2.0"/><circle cx="251.4" cy="143.7" r="2.0"/><circle cx="244.7" cy="145.1" r="2.0"/><circle cx="246.8" cy="127.1" r="2.0"/><circle cx="254.2" cy="147.0" r="2.0"/><circle cx="244.6" cy="129.2" r="2.0"/><circle cx="252.7" cy="138.6" r="2.0"/><circle cx="246.7" cy="126.0" r="2.0"/><circle cx="254.0" cy="139.2" r="2.0"/><circle cx="247.1" cy="143.4" r="2.0"/><circle cx="247.9" cy="141.9" r="2.0"/><circle cx="252.2" cy="140.1" r="2.0"/><circle cx="243.9" cy="101.1" r="2.0"/><circle cx="247.2" cy="154.2" r="2.0"/><circle cx="252.1" cy="130.2" r="2.0"/><circle cx="252.8" cy="151.8" r="2.0"/><circle cx="245.3" cy="155.7" r="2.0"/><circle cx="244.1" cy="142.4" r="2.0"/><circle cx="244.7" cy="117.8" r="2.0"/><circle cx="253.3" cy="141.7" r="2.0"/><circle cx="246.3" cy="151.6" r="2.0"/><circle cx="253.7" cy="144.5" r="2.0"/><circle cx="247.3" cy="124.3" r="2.0"/><circle cx="244.9" cy="130.5" r="2.0"/><circle cx="244.1" cy="137.9" r="2.0"/><circle cx="247.8" cy="134.8" r="2.0"/><circle cx="251.9" cy="147.7" r="2.0"/><circle cx="245.1" cy="161.8" r="2.0"/><circle cx="246.0" cy="120.3" r="2.0"/><circle cx="244.3" cy="114.3" r="2.0"/><circle cx="246.7" cy="125.2" r="2.0"/><circle cx="251.7" cy="141.3" r="2.0"/><circle cx="252.0" cy="126.9" r="2.0"/><circle cx="244.6" cy="142.7" r="2.0"/><circle cx="244.0" cy="149.7" r="2.0"/><circle cx="252.6" cy="132.3" r="2.0"/><circle cx="251.8" cy="136.9" r="2.0"/><circle cx="249.0" cy="139.7" r="2.0"/><circle cx="253.8" cy="135.9" r="2.0"/><circle cx="244.5" cy="109.2" r="2.0"/><circle cx="245.6" cy="144.8" r="2.0"/><circle cx="245.5" cy="116.9" r="2.0"/><circle cx="249.6" cy="149.1" r="2.0"/><circle cx="248.5" cy="138.9" r="2.0"/><circle cx="248.7" cy="138.9" r="2.0"/><circle cx="249.2" cy="141.7" r="2.0"/><circle cx="249.9" cy="134.5" r="2.0"/><circle cx="252.4" cy="144.1" r="2.0"/><circle cx="246.0" cy="136.1" r="2.0"/><circle cx="245.4" cy="140.1" r="2.0"/><circle cx="254.0" cy="145.8" r="2.0"/><circle cx="247.7" cy="156.1" r="2.0"/><circle cx="246.1" cy="144.9" r="2.0"/><circle cx="251.0" cy="133.2" r="2.0"/><circle cx="253.3" cy="134.9" r="2.0"/><circle cx="252.9" cy="132.9" r="2.0"/><circle cx="252.3" cy="136.1" r="2.0"/><circle cx="250.7" cy="130.6" r="2.0"/><circle cx="250.2" cy="127.7" r="2.0"/><circle cx="249.8" cy="132.9" r="2.0"/><circle cx="245.2" cy="138.7" r="2.0"/><circle cx="247.8" cy="124.9" r="2.0"/><circle cx="249.4" cy="153.2" r="2.0"/><circle cx="245.8" cy="123.1" r="2.0"/><circle cx="245.5" cy="151.0" r="2.0"/><circle cx="249.4" cy="143.2" r="2.0"/><circle cx="249.0" cy="126.3" r="2.0"/><circle cx="249.4" cy="141.9" r="2.0"/><circle cx="245.7" cy="129.8" r="2.0"/><circle cx="253.2" cy="134.8" r="2.0"/><circle cx="246.8" cy="151.7" r="2.0"/><circle cx="247.9" cy="136.9" r="2.0"/><circle cx="243.9" cy="124.2" r="2.0"/><circle cx="248.1" cy="129.2" r="2.0"/><circle cx="246.0" cy="157.2" r="2.0"/><circle cx="251.5" cy="150.3" r="2.0"/><circle cx="253.5" cy="141.3" r="2.0"/><circle cx="250.0" cy="143.5" r="2.0"/><circle cx="247.5" cy="151.9" r="2.0"/><circle cx="254.0" cy="138.0" r="2.0"/><circle cx="252.0" cy="151.9" r="2.0"/><circle cx="250.6" cy="130.6" r="2.0"/><circle cx="245.7" cy="155.8" r="2.0"/><circle cx="246.3" cy="132.7" r="2.0"/><circle cx="245.5" cy="155.3" r="2.0"/><circle cx="253.9" cy="145.7" r="2.0"/><circle cx="246.1" cy="131.5" r="2.0"/><circle cx="246.4" cy="122.0" r="2.0"/><circle cx="250.1" cy="144.5" r="2.0"/><circle cx="252.9" cy="132.1" r="2.0"/><circle cx="244.0" cy="117.0" r="2.0"/><circle cx="244.3" cy="108.7" r="2.0"/><circle cx="248.8" cy="125.2" r="2.0"/><circle cx="244.5" cy="126.7" r="2.0"/><circle cx="248.1" cy="145.6" r="2.0"/><circle cx="246.9" cy="144.0" r="2.0"/><circle cx="252.2" cy="145.8" r="2.0"/><circle cx="244.7" cy="147.2" r="2.0"/><circle cx="244.3" cy="130.5" r="2.0"/><circle cx="253.9" cy="144.3" r="2.0"/><circle cx="252.6" cy="134.8" r="2.0"/><circle cx="250.7" cy="134.1" r="2.0"/><circle cx="244.6" cy="106.8" r="2.0"/><circle cx="251.9" cy="149.2" r="2.0"/><circle cx="249.3" cy="133.2" r="2.0"/><circle cx="244.6" cy="153.3" r="2.0"/><circle cx="248.4" cy="129.8" r="2.0"/><circle cx="246.2" cy="145.2" r="2.0"/><circle cx="243.9" cy="106.4" r="2.0"/><circle cx="251.3" cy="134.1" r="2.0"/><circle cx="248.9" cy="131.2" r="2.0"/><circle cx="244.5" cy="141.8" r="2.0"/><circle cx="246.4" cy="121.3" r="2.0"/><circle cx="245.0" cy="116.5" r="2.0"/><circle cx="244.8" cy="141.4" r="2.0"/><circle cx="254.1" cy="149.8" r="2.0"/><circle cx="250.1" cy="125.5" r="2.0"/><circle cx="248.8" cy="130.2" r="2.0"/><circle cx="244.5" cy="154.3" r="2.0"/><circle cx="250.7" cy="130.8" r="2.0"/><circle cx="247.3" cy="149.1" r="2.0"/><circle cx="245.7" cy="137.8" r="2.0"/><circle cx="251.1" cy="140.0" r="2.0"/><circle cx="245.8" cy="144.2" r="2.0"/><circle cx="245.0" cy="109.3" r="2.0"/><circle cx="251.6" cy="132.9" r="2.0"/><circle cx="249.7" cy="125.2" r="2.0"/><circle cx="247.6" cy="135.9" r="2.0"/><circle cx="244.7" cy="156.3" r="2.0"/><circle cx="249.0" cy="146.5" r="2.0"/><circle cx="251.2" cy="129.4" r="2.0"/><circle cx="247.7" cy="141.4" r="2.0"/><circle cx="250.6" cy="135.6" r="2.0"/><circle cx="253.2" cy="143.5" r="2.0"/><circle cx="252.0" cy="145.8" r="2.0"/><circle cx="250.4" cy="126.7" r="2.0"/><circle cx="244.7" cy="116.4" r="2.0"/><circle cx="247.6" cy="145.2" r="2.0"/><circle cx="244.7" cy="143.9" r="2.0"/><circle cx="245.5" cy="140.4" r="2.0"/><circle cx="244.5" cy="108.9" r="2.0"/><circle cx="244.0" cy="152.1" r="2.0"/><circle cx="252.8" cy="150.8" r="2.0"/><circle cx="247.7" cy="156.3" r="2.0"/><circle cx="246.5" cy="132.3" r="2.0"/><circle cx="247.4" cy="121.6" r="2.0"/><circle cx="246.2" cy="133.5" r="2.0"/><circle cx="249.3" cy="138.0" r="2.0"/><circle cx="248.5" cy="141.4" r="2.0"/><circle cx="252.1" cy="140.8" r="2.0"/><circle cx="249.5" cy="148.7" r="2.0"/><circle cx="250.0" cy="143.8" r="2.0"/><circle cx="247.7" cy="124.9" r="2.0"/><circle cx="249.8" cy="132.0" r="2.0"/><circle cx="248.3" cy="151.8" r="2.0"/><circle cx="252.6" cy="148.9" r="2.0"/><circle cx="245.2" cy="151.2" r="2.0"/><circle cx="252.5" cy="137.6" r="2.0"/><circle cx="245.3" cy="148.4" r="2.0"/><circle cx="248.3" cy="152.2" r="2.0"/><circle cx="250.0" cy="149.4" r="2.0"/><circle cx="248.3" cy="151.6" r="2.0"/><circle cx="250.4" cy="133.4" r="2.0"/><circle cx="249.7" cy="138.6" r="2.0"/><circle cx="244.3" cy="102.6" r="2.0"/><circle cx="247.2" cy="139.7" r="2.0"/><circle cx="250.6" cy="152.2" r="2.0"/><circle cx="245.7" cy="130.5" r="2.0"/><circle cx="246.6" cy="147.0" r="2.0"/><circle cx="254.2" cy="145.7" r="2.0"/><circle cx="244.4" cy="152.1" r="2.0"/><circle cx="244.6" cy="133.8" r="2.0"/><circle cx="246.7" cy="158.5" r="2.0"/><circle cx="248.7" cy="154.7" r="2.0"/><circle cx="245.7" cy="119.2" r="2.0"/><circle cx="247.0" cy="143.0" r="2.0"/><circle cx="252.7" cy="134.2" r="2.0"/><circle cx="248.3" cy="130.1" r="2.0"/><circle cx="244.1" cy="124.5" r="2.0"/><circle cx="245.3" cy="126.3" r="2.0"/><circle cx="246.0" cy="146.5" r="2.0"/><circle cx="248.5" cy="150.2" r="2.0"/><circle cx="244.3" cy="125.9" r="2.0"/><circle cx="244.6" cy="104.5" r="2.0"/><circle cx="245.7" cy="156.1" r="2.0"/><circle cx="246.7" cy="135.2" r="2.0"/><circle cx="245.3" cy="129.6" r="2.0"/><circle cx="251.5" cy="134.9" r="2.0"/><circle cx="248.3" cy="152.2" r="2.0"/><circle cx="246.0" cy="132.2" r="2.0"/><circle cx="245.5" cy="136.3" r="2.0"/><circle cx="250.3" cy="150.4" r="2.0"/><circle cx="252.7" cy="136.9" r="2.0"/><circle cx="247.0" cy="157.1" r="2.0"/><circle cx="244.9" cy="116.7" r="2.0"/><circle cx="244.2" cy="131.6" r="2.0"/><circle cx="249.5" cy="151.5" r="2.0"/><circle cx="244.8" cy="151.1" r="2.0"/></g>
<path d="M244.10,108.30C244.23,109.42 244.52,113.05 244.90,115.00C245.28,116.95 245.85,118.33 246.40,120.00C246.95,121.67 247.52,123.33 248.20,125.00C248.88,126.67 249.63,128.33 250.50,130.00C251.37,131.67 252.48,133.33 253.40,135.00C254.32,136.67 256.00,138.33 256.00,140.00C256.00,141.67 254.32,143.33 253.40,145.00C252.48,146.67 251.42,148.33 250.50,150.00C249.58,151.67 248.68,153.33 247.90,155.00C247.12,156.67 246.33,158.33 245.80,160.00C245.27,161.67 244.98,163.17 244.70,165.00C244.42,166.83 244.20,170.00 244.10,171.00" fill="none" stroke="#111" stroke-width="1.05"/>
<line x1="233.85" y1="122" x2="233.85" y2="158.4" stroke="#222" stroke-width="1.2"/>
<line x1="229.85" y1="122" x2="237.85" y2="122" stroke="#222" stroke-width="1.2"/>
<line x1="229.85" y1="158.4" x2="237.85" y2="158.4" stroke="#222" stroke-width="1.2"/>
<rect x="225.7" y="136.3" width="16.30" height="8.40" fill="#9a62bc" stroke="#222" stroke-width="1.2"/>
<line x1="225.7" y1="141.3" x2="242" y2="141.3" stroke="#222" stroke-width="1.2"/>
<rect x="231.65" y="137.10" width="4.4" height="4.4" fill="#9a62bc" stroke="#222" stroke-width="1"/>
<g fill="#fbe6a4" stroke="#f0c85c" stroke-width="0.7"><circle cx="297.2" cy="161.2" r="2.0"/><circle cx="301.1" cy="148.8" r="2.0"/><circle cx="296.5" cy="132.5" r="2.0"/><circle cx="298.7" cy="128.1" r="2.0"/><circle cx="294.6" cy="114.7" r="2.0"/><circle cx="294.9" cy="114.5" r="2.0"/><circle cx="296.0" cy="149.9" r="2.0"/><circle cx="295.6" cy="147.5" r="2.0"/><circle cx="299.4" cy="150.1" r="2.0"/><circle cx="302.6" cy="135.5" r="2.0"/><circle cx="295.7" cy="128.8" r="2.0"/><circle cx="299.3" cy="142.1" r="2.0"/><circle cx="296.7" cy="157.1" r="2.0"/><circle cx="303.0" cy="147.5" r="2.0"/><circle cx="296.3" cy="122.9" r="2.0"/><circle cx="294.9" cy="138.3" r="2.0"/><circle cx="304.7" cy="141.8" r="2.0"/><circle cx="295.6" cy="146.5" r="2.0"/><circle cx="300.2" cy="140.9" r="2.0"/><circle cx="297.0" cy="132.9" r="2.0"/><circle cx="299.4" cy="151.5" r="2.0"/><circle cx="302.3" cy="148.0" r="2.0"/><circle cx="297.9" cy="140.6" r="2.0"/><circle cx="299.5" cy="154.0" r="2.0"/><circle cx="297.2" cy="152.9" r="2.0"/><circle cx="297.7" cy="123.7" r="2.0"/><circle cx="297.5" cy="122.4" r="2.0"/><circle cx="295.1" cy="147.0" r="2.0"/><circle cx="298.4" cy="129.2" r="2.0"/><circle cx="296.5" cy="136.3" r="2.0"/><circle cx="300.3" cy="143.0" r="2.0"/><circle cx="297.7" cy="127.2" r="2.0"/><circle cx="302.4" cy="143.2" r="2.0"/><circle cx="296.6" cy="121.9" r="2.0"/><circle cx="302.6" cy="149.9" r="2.0"/><circle cx="301.1" cy="141.6" r="2.0"/><circle cx="299.8" cy="138.7" r="2.0"/><circle cx="294.8" cy="147.6" r="2.0"/><circle cx="303.6" cy="139.2" r="2.0"/><circle cx="303.9" cy="151.2" r="2.0"/><circle cx="301.6" cy="146.9" r="2.0"/><circle cx="297.0" cy="152.6" r="2.0"/><circle cx="296.4" cy="146.2" r="2.0"/><circle cx="300.4" cy="128.6" r="2.0"/><circle cx="296.6" cy="139.0" r="2.0"/><circle cx="297.0" cy="151.5" r="2.0"/><circle cx="296.1" cy="120.8" r="2.0"/><circle cx="299.5" cy="139.0" r="2.0"/><circle cx="303.6" cy="152.1" r="2.0"/><circle cx="303.6" cy="140.3" r="2.0"/><circle cx="297.9" cy="141.4" r="2.0"/><circle cx="303.9" cy="135.5" r="2.0"/><circle cx="300.1" cy="151.6" r="2.0"/><circle cx="300.7" cy="137.2" r="2.0"/><circle cx="295.4" cy="115.7" r="2.0"/><circle cx="302.2" cy="135.4" r="2.0"/><circle cx="298.8" cy="147.7" r="2.0"/><circle cx="295.8" cy="156.4" r="2.0"/><circle cx="297.3" cy="147.4" r="2.0"/><circle cx="295.2" cy="114.9" r="2.0"/><circle cx="296.6" cy="154.9" r="2.0"/><circle cx="295.0" cy="117.7" r="2.0"/><circle cx="296.1" cy="149.5" r="2.0"/><circle cx="294.7" cy="154.8" r="2.0"/><circle cx="297.0" cy="146.5" r="2.0"/><circle cx="295.8" cy="141.7" r="2.0"/><circle cx="297.3" cy="150.1" r="2.0"/><circle cx="295.9" cy="128.2" r="2.0"/><circle cx="299.6" cy="150.9" r="2.0"/><circle cx="296.2" cy="161.5" r="2.0"/><circle cx="302.7" cy="135.8" r="2.0"/><circle cx="298.6" cy="157.0" r="2.0"/><circle cx="294.8" cy="91.2" r="2.0"/><circle cx="297.1" cy="129.5" r="2.0"/><circle cx="299.1" cy="145.4" r="2.0"/><circle cx="303.5" cy="145.6" r="2.0"/><circle cx="294.9" cy="130.0" r="2.0"/><circle cx="294.9" cy="99.3" r="2.0"/><circle cx="296.9" cy="162.5" r="2.0"/><circle cx="300.7" cy="156.6" r="2.0"/><circle cx="295.0" cy="131.7" r="2.0"/><circle cx="294.5" cy="97.5" r="2.0"/><circle cx="303.2" cy="137.4" r="2.0"/><circle cx="304.1" cy="139.8" r="2.0"/><circle cx="301.0" cy="155.9" r="2.0"/><circle cx="296.2" cy="156.3" r="2.0"/><circle cx="294.6" cy="126.4" r="2.0"/><circle cx="295.3" cy="130.8" r="2.0"/><circle cx="297.7" cy="153.2" r="2.0"/><circle cx="294.9" cy="101.9" r="2.0"/><circle cx="297.2" cy="118.7" r="2.0"/><circle cx="294.4" cy="99.2" r="2.0"/><circle cx="299.4" cy="132.4" r="2.0"/><circle cx="303.8" cy="151.5" r="2.0"/><circle cx="294.7" cy="158.7" r="2.0"/><circle cx="299.5" cy="130.0" r="2.0"/><circle cx="294.7" cy="132.1" r="2.0"/><circle cx="294.4" cy="157.7" r="2.0"/><circle cx="302.4" cy="141.3" r="2.0"/><circle cx="299.7" cy="147.9" r="2.0"/><circle cx="294.5" cy="100.7" r="2.0"/><circle cx="298.4" cy="126.6" r="2.0"/><circle cx="294.8" cy="139.6" r="2.0"/><circle cx="298.5" cy="152.3" r="2.0"/><circle cx="304.7" cy="150.3" r="2.0"/><circle cx="297.4" cy="146.1" r="2.0"/><circle cx="294.8" cy="107.2" r="2.0"/><circle cx="296.2" cy="152.0" r="2.0"/><circle cx="298.2" cy="159.7" r="2.0"/><circle cx="295.4" cy="120.2" r="2.0"/><circle cx="302.2" cy="149.8" r="2.0"/><circle cx="297.6" cy="127.7" r="2.0"/><circle cx="298.9" cy="142.9" r="2.0"/><circle cx="296.0" cy="149.3" r="2.0"/><circle cx="298.4" cy="155.5" r="2.0"/><circle cx="300.9" cy="128.1" r="2.0"/><circle cx="300.7" cy="151.8" r="2.0"/><circle cx="300.6" cy="149.4" r="2.0"/><circle cx="296.1" cy="132.3" r="2.0"/><circle cx="295.5" cy="156.4" r="2.0"/><circle cx="296.1" cy="129.0" r="2.0"/><circle cx="294.7" cy="149.4" r="2.0"/><circle cx="296.5" cy="162.7" r="2.0"/><circle cx="299.2" cy="130.5" r="2.0"/><circle cx="297.2" cy="143.1" r="2.0"/><circle cx="295.9" cy="156.2" r="2.0"/><circle cx="298.0" cy="156.8" r="2.0"/><circle cx="299.4" cy="144.4" r="2.0"/><circle cx="295.0" cy="114.5" r="2.0"/><circle cx="300.7" cy="128.5" r="2.0"/><circle cx="296.7" cy="142.0" r="2.0"/><circle cx="297.5" cy="159.8" r="2.0"/><circle cx="296.0" cy="124.7" r="2.0"/><circle cx="302.9" cy="134.9" r="2.0"/><circle cx="303.3" cy="144.9" r="2.0"/><circle cx="299.2" cy="152.4" r="2.0"/><circle cx="296.6" cy="151.0" r="2.0"/><circle cx="301.0" cy="154.8" r="2.0"/><circle cx="297.8" cy="152.1" r="2.0"/><circle cx="297.8" cy="132.9" r="2.0"/><circle cx="302.1" cy="155.1" r="2.0"/><circle cx="298.7" cy="129.7" r="2.0"/><circle cx="304.2" cy="147.4" r="2.0"/><circle cx="294.8" cy="107.4" r="2.0"/><circle cx="294.9" cy="139.7" r="2.0"/><circle cx="299.5" cy="151.9" r="2.0"/><circle cx="297.2" cy="151.9" r="2.0"/><circle cx="302.9" cy="150.2" r="2.0"/><circle cx="295.5" cy="158.9" r="2.0"/><circle cx="294.6" cy="129.9" r="2.0"/><circle cx="297.3" cy="143.0" r="2.0"/><circle cx="296.9" cy="157.1" r="2.0"/><circle cx="295.5" cy="124.4" r="2.0"/><circle cx="296.5" cy="126.2" r="2.0"/><circle cx="296.4" cy="155.8" r="2.0"/><circle cx="295.1" cy="123.6" r="2.0"/><circle cx="295.3" cy="119.4" r="2.0"/><circle cx="300.4" cy="128.3" r="2.0"/><circle cx="296.6" cy="127.0" r="2.0"/><circle cx="300.2" cy="132.1" r="2.0"/><circle cx="297.3" cy="140.4" r="2.0"/><circle cx="300.6" cy="140.3" r="2.0"/><circle cx="295.8" cy="157.3" r="2.0"/><circle cx="296.2" cy="151.7" r="2.0"/><circle cx="299.0" cy="136.3" r="2.0"/><circle cx="300.2" cy="127.4" r="2.0"/><circle cx="296.6" cy="143.3" r="2.0"/><circle cx="294.8" cy="145.1" r="2.0"/><circle cx="295.0" cy="160.9" r="2.0"/><circle cx="296.3" cy="156.4" r="2.0"/><circle cx="301.3" cy="147.5" r="2.0"/><circle cx="298.1" cy="152.8" r="2.0"/><circle cx="299.2" cy="158.2" r="2.0"/><circle cx="294.4" cy="151.3" r="2.0"/><circle cx="297.2" cy="141.6" r="2.0"/><circle cx="295.1" cy="138.3" r="2.0"/><circle cx="298.5" cy="143.5" r="2.0"/><circle cx="297.0" cy="139.7" r="2.0"/><circle cx="295.6" cy="120.9" r="2.0"/><circle cx="297.2" cy="142.8" r="2.0"/><circle cx="296.2" cy="141.4" r="2.0"/><circle cx="303.6" cy="147.9" r="2.0"/><circle cx="297.4" cy="154.5" r="2.0"/><circle cx="298.1" cy="124.3" r="2.0"/><circle cx="295.5" cy="137.7" r="2.0"/><circle cx="302.1" cy="146.3" r="2.0"/><circle cx="296.1" cy="133.7" r="2.0"/><circle cx="294.9" cy="122.2" r="2.0"/><circle cx="297.5" cy="144.1" r="2.0"/><circle cx="298.4" cy="136.0" r="2.0"/><circle cx="294.6" cy="150.5" r="2.0"/><circle cx="296.3" cy="149.5" r="2.0"/><circle cx="296.3" cy="137.7" r="2.0"/><circle cx="299.6" cy="125.4" r="2.0"/><circle cx="301.7" cy="130.0" r="2.0"/><circle cx="297.7" cy="144.1" r="2.0"/><circle cx="295.8" cy="135.6" r="2.0"/><circle cx="295.8" cy="128.6" r="2.0"/><circle cx="297.4" cy="140.0" r="2.0"/><circle cx="298.7" cy="129.5" r="2.0"/><circle cx="305.8" cy="149.0" r="2.0"/><circle cx="295.9" cy="117.8" r="2.0"/><circle cx="297.8" cy="131.2" r="2.0"/><circle cx="300.2" cy="145.6" r="2.0"/><circle cx="297.6" cy="156.5" r="2.0"/><circle cx="294.8" cy="165.8" r="2.0"/><circle cx="296.4" cy="150.8" r="2.0"/><circle cx="303.5" cy="146.5" r="2.0"/><circle cx="295.3" cy="145.7" r="2.0"/><circle cx="298.0" cy="151.2" r="2.0"/><circle cx="295.6" cy="147.0" r="2.0"/><circle cx="301.3" cy="155.9" r="2.0"/><circle cx="302.3" cy="143.8" r="2.0"/><circle cx="295.7" cy="120.5" r="2.0"/><circle cx="305.1" cy="144.0" r="2.0"/><circle cx="294.6" cy="138.7" r="2.0"/><circle cx="304.3" cy="145.6" r="2.0"/><circle cx="295.0" cy="150.8" r="2.0"/><circle cx="296.4" cy="155.7" r="2.0"/><circle cx="301.3" cy="152.3" r="2.0"/><circle cx="295.4" cy="116.0" r="2.0"/><circle cx="299.7" cy="155.0" r="2.0"/><circle cx="303.1" cy="147.1" r="2.0"/><circle cx="295.9" cy="159.6" r="2.0"/><circle cx="297.0" cy="157.6" r="2.0"/></g>
<path d="M294.70,89.00C294.75,90.00 294.90,93.17 295.00,95.00C295.10,96.83 295.15,98.33 295.30,100.00C295.45,101.67 295.55,103.33 295.90,105.00C296.25,106.67 296.90,108.33 297.40,110.00C297.90,111.67 298.32,113.33 298.90,115.00C299.48,116.67 300.27,118.33 300.90,120.00C301.53,121.67 302.12,123.33 302.70,125.00C303.28,126.67 303.92,128.33 304.40,130.00C304.88,131.67 305.30,133.33 305.60,135.00C305.90,136.67 306.20,138.33 306.20,140.00C306.20,141.67 305.90,143.33 305.60,145.00C305.30,146.67 304.88,148.33 304.40,150.00C303.92,151.67 303.38,153.33 302.70,155.00C302.02,156.67 301.05,158.33 300.30,160.00C299.55,161.67 298.78,163.33 298.20,165.00C297.62,166.67 297.17,168.33 296.80,170.00C296.43,171.67 296.25,173.33 296.00,175.00C295.75,176.67 295.52,177.83 295.30,180.00C295.08,182.17 294.80,186.67 294.70,188.00" fill="none" stroke="#111" stroke-width="1.05"/>
<line x1="284.65" y1="106.4" x2="284.65" y2="166" stroke="#222" stroke-width="1.2"/>
<line x1="280.65" y1="106.4" x2="288.65" y2="106.4" stroke="#222" stroke-width="1.2"/>
<line x1="280.65" y1="166" x2="288.65" y2="166" stroke="#222" stroke-width="1.2"/>
<rect x="276.8" y="129.2" width="15.70" height="18.60" fill="#f8e090" stroke="#222" stroke-width="1.2"/>
<line x1="276.8" y1="141.5" x2="292.5" y2="141.5" stroke="#222" stroke-width="1.2"/>
<rect x="282.45" y="136.30" width="4.4" height="4.4" fill="#f8e090" stroke="#222" stroke-width="1"/>
<g fill="#b4d8fa" stroke="#4090e8" stroke-width="0.7"><circle cx="350.9" cy="142.7" r="2.0"/><circle cx="347.9" cy="140.0" r="2.0"/><circle cx="348.7" cy="123.3" r="2.0"/><circle cx="350.2" cy="147.6" r="2.0"/><circle cx="349.3" cy="156.1" r="2.0"/><circle cx="347.5" cy="130.9" r="2.0"/><circle cx="351.4" cy="150.9" r="2.0"/><circle cx="346.2" cy="151.0" r="2.0"/><circle cx="345.5" cy="148.7" r="2.0"/><circle cx="348.8" cy="140.2" r="2.0"/><circle cx="349.5" cy="138.9" r="2.0"/><circle cx="350.8" cy="151.3" r="2.0"/><circle cx="355.2" cy="148.5" r="2.0"/><circle cx="345.4" cy="139.4" r="2.0"/><circle cx="348.8" cy="121.8" r="2.0"/><circle cx="347.5" cy="134.1" r="2.0"/><circle cx="347.7" cy="133.9" r="2.0"/><circle cx="351.3" cy="150.4" r="2.0"/><circle cx="355.4" cy="147.3" r="2.0"/><circle cx="348.0" cy="124.2" r="2.0"/><circle cx="350.9" cy="146.8" r="2.0"/><circle cx="346.1" cy="153.2" r="2.0"/><circle cx="346.4" cy="144.7" r="2.0"/><circle cx="350.7" cy="127.6" r="2.0"/><circle cx="346.6" cy="124.5" r="2.0"/><circle cx="354.7" cy="141.5" r="2.0"/><circle cx="350.0" cy="149.5" r="2.0"/><circle cx="353.0" cy="133.6" r="2.0"/><circle cx="355.9" cy="145.2" r="2.0"/><circle cx="346.4" cy="136.7" r="2.0"/><circle cx="349.0" cy="132.0" r="2.0"/><circle cx="355.7" cy="138.2" r="2.0"/><circle cx="345.6" cy="131.3" r="2.0"/><circle cx="351.6" cy="133.8" r="2.0"/><circle cx="345.1" cy="158.0" r="2.0"/><circle cx="352.6" cy="148.0" r="2.0"/><circle cx="346.4" cy="120.1" r="2.0"/><circle cx="349.7" cy="125.6" r="2.0"/><circle cx="353.2" cy="141.9" r="2.0"/><circle cx="346.7" cy="127.9" r="2.0"/><circle cx="350.5" cy="149.3" r="2.0"/><circle cx="348.0" cy="125.1" r="2.0"/><circle cx="346.4" cy="133.6" r="2.0"/><circle cx="352.7" cy="136.0" r="2.0"/><circle cx="351.8" cy="153.2" r="2.0"/><circle cx="348.5" cy="152.2" r="2.0"/><circle cx="347.4" cy="146.0" r="2.0"/><circle cx="351.8" cy="127.9" r="2.0"/><circle cx="345.2" cy="125.9" r="2.0"/><circle cx="355.3" cy="144.2" r="2.0"/><circle cx="348.8" cy="136.9" r="2.0"/><circle cx="347.1" cy="133.7" r="2.0"/><circle cx="345.2" cy="110.7" r="2.0"/><circle cx="346.0" cy="122.2" r="2.0"/><circle cx="353.6" cy="131.1" r="2.0"/><circle cx="351.4" cy="123.9" r="2.0"/><circle cx="345.7" cy="140.2" r="2.0"/><circle cx="352.7" cy="130.2" r="2.0"/><circle cx="352.9" cy="138.8" r="2.0"/><circle cx="347.6" cy="149.2" r="2.0"/><circle cx="352.8" cy="145.6" r="2.0"/><circle cx="353.3" cy="140.6" r="2.0"/><circle cx="354.4" cy="136.2" r="2.0"/><circle cx="346.8" cy="132.5" r="2.0"/><circle cx="348.6" cy="131.5" r="2.0"/><circle cx="346.1" cy="124.7" r="2.0"/><circle cx="350.8" cy="146.2" r="2.0"/><circle cx="351.9" cy="150.2" r="2.0"/><circle cx="347.4" cy="152.0" r="2.0"/><circle cx="351.6" cy="134.9" r="2.0"/><circle cx="353.0" cy="135.1" r="2.0"/><circle cx="351.2" cy="129.2" r="2.0"/><circle cx="353.2" cy="151.0" r="2.0"/><circle cx="352.2" cy="138.1" r="2.0"/><circle cx="348.8" cy="146.5" r="2.0"/><circle cx="353.5" cy="146.7" r="2.0"/><circle cx="347.0" cy="119.4" r="2.0"/><circle cx="348.5" cy="148.6" r="2.0"/><circle cx="346.6" cy="148.2" r="2.0"/><circle cx="345.2" cy="148.3" r="2.0"/><circle cx="351.9" cy="127.8" r="2.0"/><circle cx="351.5" cy="133.1" r="2.0"/><circle cx="354.5" cy="134.3" r="2.0"/><circle cx="352.0" cy="137.3" r="2.0"/><circle cx="345.9" cy="126.8" r="2.0"/><circle cx="350.0" cy="120.2" r="2.0"/><circle cx="347.6" cy="120.5" r="2.0"/><circle cx="349.4" cy="148.4" r="2.0"/><circle cx="346.2" cy="142.9" r="2.0"/><circle cx="348.7" cy="142.6" r="2.0"/><circle cx="346.7" cy="144.2" r="2.0"/><circle cx="348.2" cy="128.0" r="2.0"/><circle cx="346.4" cy="135.9" r="2.0"/><circle cx="351.2" cy="149.4" r="2.0"/><circle cx="346.4" cy="147.7" r="2.0"/><circle cx="353.5" cy="132.6" r="2.0"/><circle cx="345.3" cy="148.2" r="2.0"/><circle cx="350.4" cy="128.3" r="2.0"/><circle cx="352.9" cy="130.8" r="2.0"/><circle cx="347.0" cy="150.0" r="2.0"/><circle cx="346.3" cy="148.7" r="2.0"/><circle cx="355.7" cy="147.7" r="2.0"/><circle cx="351.3" cy="135.3" r="2.0"/><circle cx="347.1" cy="129.8" r="2.0"/><circle cx="351.6" cy="137.7" r="2.0"/><circle cx="345.7" cy="152.8" r="2.0"/><circle cx="349.7" cy="133.0" r="2.0"/><circle cx="345.6" cy="141.2" r="2.0"/><circle cx="349.7" cy="135.3" r="2.0"/><circle cx="348.2" cy="154.6" r="2.0"/><circle cx="348.2" cy="124.6" r="2.0"/><circle cx="345.6" cy="138.1" r="2.0"/><circle cx="347.1" cy="136.3" r="2.0"/><circle cx="345.2" cy="140.3" r="2.0"/><circle cx="345.4" cy="115.7" r="2.0"/><circle cx="345.2" cy="113.3" r="2.0"/><circle cx="346.5" cy="137.0" r="2.0"/><circle cx="347.9" cy="140.3" r="2.0"/><circle cx="345.5" cy="131.3" r="2.0"/><circle cx="349.6" cy="147.6" r="2.0"/><circle cx="348.4" cy="138.9" r="2.0"/><circle cx="345.2" cy="129.4" r="2.0"/><circle cx="352.9" cy="127.3" r="2.0"/><circle cx="349.4" cy="133.8" r="2.0"/><circle cx="346.9" cy="128.6" r="2.0"/><circle cx="346.9" cy="132.4" r="2.0"/><circle cx="350.5" cy="125.9" r="2.0"/><circle cx="351.4" cy="133.1" r="2.0"/><circle cx="353.7" cy="138.0" r="2.0"/><circle cx="347.0" cy="148.7" r="2.0"/><circle cx="351.3" cy="150.8" r="2.0"/><circle cx="346.1" cy="141.1" r="2.0"/><circle cx="353.1" cy="129.2" r="2.0"/><circle cx="351.7" cy="143.5" r="2.0"/><circle cx="351.9" cy="149.6" r="2.0"/><circle cx="354.1" cy="129.1" r="2.0"/><circle cx="346.5" cy="157.4" r="2.0"/><circle cx="345.6" cy="155.7" r="2.0"/><circle cx="345.7" cy="141.6" r="2.0"/><circle cx="348.3" cy="128.0" r="2.0"/><circle cx="347.3" cy="127.5" r="2.0"/><circle cx="347.6" cy="152.8" r="2.0"/><circle cx="355.4" cy="136.6" r="2.0"/><circle cx="345.3" cy="139.2" r="2.0"/><circle cx="347.3" cy="156.0" r="2.0"/><circle cx="354.8" cy="142.7" r="2.0"/><circle cx="345.8" cy="136.9" r="2.0"/><circle cx="347.2" cy="140.2" r="2.0"/><circle cx="349.8" cy="155.4" r="2.0"/><circle cx="351.6" cy="136.0" r="2.0"/><circle cx="350.8" cy="125.1" r="2.0"/><circle cx="347.0" cy="138.0" r="2.0"/><circle cx="346.0" cy="154.5" r="2.0"/><circle cx="347.2" cy="135.6" r="2.0"/><circle cx="347.6" cy="157.1" r="2.0"/><circle cx="348.1" cy="148.1" r="2.0"/><circle cx="345.1" cy="155.7" r="2.0"/><circle cx="355.5" cy="134.3" r="2.0"/><circle cx="345.2" cy="86.4" r="2.0"/><circle cx="352.6" cy="146.1" r="2.0"/><circle cx="354.6" cy="131.8" r="2.0"/><circle cx="347.5" cy="127.2" r="2.0"/><circle cx="348.8" cy="136.4" r="2.0"/><circle cx="346.6" cy="136.9" r="2.0"/><circle cx="352.4" cy="147.6" r="2.0"/><circle cx="355.9" cy="145.3" r="2.0"/><circle cx="352.1" cy="145.1" r="2.0"/><circle cx="351.6" cy="136.2" r="2.0"/><circle cx="354.4" cy="142.7" r="2.0"/><circle cx="350.0" cy="148.4" r="2.0"/><circle cx="346.3" cy="131.3" r="2.0"/><circle cx="351.8" cy="131.4" r="2.0"/><circle cx="344.9" cy="121.7" r="2.0"/><circle cx="356.0" cy="139.7" r="2.0"/><circle cx="346.9" cy="142.7" r="2.0"/><circle cx="349.0" cy="121.7" r="2.0"/><circle cx="350.6" cy="140.8" r="2.0"/><circle cx="347.9" cy="147.0" r="2.0"/><circle cx="349.7" cy="150.9" r="2.0"/><circle cx="353.2" cy="126.9" r="2.0"/><circle cx="350.1" cy="127.8" r="2.0"/><circle cx="356.0" cy="147.0" r="2.0"/><circle cx="349.9" cy="151.7" r="2.0"/><circle cx="347.1" cy="125.4" r="2.0"/><circle cx="353.2" cy="144.1" r="2.0"/><circle cx="350.4" cy="126.6" r="2.0"/><circle cx="355.1" cy="140.5" r="2.0"/><circle cx="350.3" cy="143.0" r="2.0"/><circle cx="352.6" cy="134.4" r="2.0"/><circle cx="348.8" cy="129.8" r="2.0"/><circle cx="347.9" cy="147.6" r="2.0"/><circle cx="353.6" cy="144.6" r="2.0"/><circle cx="346.2" cy="150.5" r="2.0"/><circle cx="354.4" cy="128.7" r="2.0"/><circle cx="355.3" cy="146.5" r="2.0"/><circle cx="345.6" cy="120.9" r="2.0"/><circle cx="346.4" cy="148.6" r="2.0"/><circle cx="355.0" cy="140.0" r="2.0"/></g>
<path d="M345.60,103.00C345.62,103.33 345.53,103.83 345.70,105.00C345.87,106.17 346.32,108.33 346.60,110.00C346.88,111.67 347.02,113.33 347.40,115.00C347.78,116.67 348.22,118.33 348.90,120.00C349.58,121.67 350.68,123.33 351.50,125.00C352.32,126.67 353.07,128.33 353.80,130.00C354.53,131.67 355.40,133.33 355.90,135.00C356.40,136.67 356.85,138.33 356.80,140.00C356.75,141.67 356.18,143.33 355.60,145.00C355.02,146.67 354.18,148.33 353.30,150.00C352.42,151.67 351.18,153.33 350.30,155.00C349.42,156.67 348.58,158.33 348.00,160.00C347.42,161.67 347.08,163.33 346.80,165.00C346.52,166.67 346.43,168.33 346.30,170.00C346.17,171.67 346.05,174.17 346.00,175.00" fill="none" stroke="#111" stroke-width="1.05"/>
<line x1="334.80" y1="116.6" x2="334.80" y2="158.6" stroke="#222" stroke-width="1.2"/>
<line x1="330.80" y1="116.6" x2="338.80" y2="116.6" stroke="#222" stroke-width="1.2"/>
<line x1="330.80" y1="158.6" x2="338.80" y2="158.6" stroke="#222" stroke-width="1.2"/>
<rect x="327" y="133.4" width="15.60" height="13.00" fill="#a8d2f8" stroke="#222" stroke-width="1.2"/>
<line x1="327" y1="141" x2="342.6" y2="141" stroke="#222" stroke-width="1.2"/>
<rect x="332.60" y="136.40" width="4.4" height="4.4" fill="#a8d2f8" stroke="#222" stroke-width="1"/>
<g fill="#e4903e" stroke="#9c5a1c" stroke-width="0.7"><circle cx="401.7" cy="143.5" r="2.0"/><circle cx="396.7" cy="147.8" r="2.0"/><circle cx="395.5" cy="109.1" r="2.0"/><circle cx="402.4" cy="143.6" r="2.0"/><circle cx="395.7" cy="99.5" r="2.0"/><circle cx="399.3" cy="140.4" r="2.0"/><circle cx="395.9" cy="138.8" r="2.0"/><circle cx="397.0" cy="124.7" r="2.0"/><circle cx="398.7" cy="126.1" r="2.0"/><circle cx="407.1" cy="149.4" r="2.0"/><circle cx="395.7" cy="106.2" r="2.0"/><circle cx="395.8" cy="142.2" r="2.0"/><circle cx="399.7" cy="156.0" r="2.0"/><circle cx="403.3" cy="134.6" r="2.0"/><circle cx="396.3" cy="154.3" r="2.0"/><circle cx="398.2" cy="147.5" r="2.0"/><circle cx="397.8" cy="154.1" r="2.0"/><circle cx="401.3" cy="155.2" r="2.0"/><circle cx="396.5" cy="144.3" r="2.0"/><circle cx="399.3" cy="146.1" r="2.0"/><circle cx="398.8" cy="138.3" r="2.0"/><circle cx="396.6" cy="122.1" r="2.0"/><circle cx="396.7" cy="149.2" r="2.0"/><circle cx="395.9" cy="85.0" r="2.0"/><circle cx="401.9" cy="131.8" r="2.0"/><circle cx="398.6" cy="138.7" r="2.0"/><circle cx="401.6" cy="147.8" r="2.0"/><circle cx="395.8" cy="102.1" r="2.0"/><circle cx="398.3" cy="142.9" r="2.0"/><circle cx="398.1" cy="153.1" r="2.0"/><circle cx="401.6" cy="153.4" r="2.0"/><circle cx="397.2" cy="141.3" r="2.0"/><circle cx="395.6" cy="136.9" r="2.0"/><circle cx="395.9" cy="153.3" r="2.0"/><circle cx="406.6" cy="149.4" r="2.0"/><circle cx="395.9" cy="131.3" r="2.0"/><circle cx="407.1" cy="150.6" r="2.0"/><circle cx="396.2" cy="142.9" r="2.0"/><circle cx="401.6" cy="152.0" r="2.0"/><circle cx="398.3" cy="131.6" r="2.0"/><circle cx="402.3" cy="150.1" r="2.0"/><circle cx="397.3" cy="151.8" r="2.0"/><circle cx="396.7" cy="122.4" r="2.0"/><circle cx="402.8" cy="155.4" r="2.0"/><circle cx="399.1" cy="140.7" r="2.0"/><circle cx="407.1" cy="151.6" r="2.0"/><circle cx="397.1" cy="123.8" r="2.0"/><circle cx="396.3" cy="137.8" r="2.0"/><circle cx="396.0" cy="123.7" r="2.0"/><circle cx="398.5" cy="127.2" r="2.0"/><circle cx="406.3" cy="151.9" r="2.0"/><circle cx="401.1" cy="136.6" r="2.0"/><circle cx="398.2" cy="136.5" r="2.0"/><circle cx="405.6" cy="148.1" r="2.0"/><circle cx="403.7" cy="145.2" r="2.0"/><circle cx="400.8" cy="131.1" r="2.0"/><circle cx="395.5" cy="75.0" r="2.0"/><circle cx="395.6" cy="188.4" r="2.0"/><circle cx="395.8" cy="145.4" r="2.0"/><circle cx="401.7" cy="132.4" r="2.0"/><circle cx="397.0" cy="146.3" r="2.0"/><circle cx="402.7" cy="145.5" r="2.0"/><circle cx="398.6" cy="143.6" r="2.0"/><circle cx="396.5" cy="150.4" r="2.0"/><circle cx="402.3" cy="132.1" r="2.0"/><circle cx="400.0" cy="150.1" r="2.0"/><circle cx="396.0" cy="91.0" r="2.0"/><circle cx="398.0" cy="130.5" r="2.0"/><circle cx="405.8" cy="144.5" r="2.0"/><circle cx="400.0" cy="151.7" r="2.0"/><circle cx="399.5" cy="140.1" r="2.0"/><circle cx="405.0" cy="148.1" r="2.0"/><circle cx="398.0" cy="134.1" r="2.0"/><circle cx="397.4" cy="154.2" r="2.0"/><circle cx="396.0" cy="131.7" r="2.0"/><circle cx="397.0" cy="142.7" r="2.0"/><circle cx="401.9" cy="153.2" r="2.0"/><circle cx="401.9" cy="137.1" r="2.0"/><circle cx="397.8" cy="147.3" r="2.0"/><circle cx="406.0" cy="151.9" r="2.0"/><circle cx="396.8" cy="126.7" r="2.0"/><circle cx="396.0" cy="143.9" r="2.0"/><circle cx="399.6" cy="152.4" r="2.0"/><circle cx="402.3" cy="150.5" r="2.0"/><circle cx="403.7" cy="137.2" r="2.0"/><circle cx="404.0" cy="150.0" r="2.0"/><circle cx="399.3" cy="147.6" r="2.0"/><circle cx="395.9" cy="108.5" r="2.0"/><circle cx="403.7" cy="142.5" r="2.0"/><circle cx="405.6" cy="148.4" r="2.0"/><circle cx="398.1" cy="149.5" r="2.0"/><circle cx="405.0" cy="151.2" r="2.0"/><circle cx="406.8" cy="154.0" r="2.0"/><circle cx="398.8" cy="138.1" r="2.0"/><circle cx="396.0" cy="130.3" r="2.0"/><circle cx="402.6" cy="135.8" r="2.0"/><circle cx="402.5" cy="141.1" r="2.0"/><circle cx="396.0" cy="106.4" r="2.0"/><circle cx="404.4" cy="151.5" r="2.0"/><circle cx="397.7" cy="151.7" r="2.0"/><circle cx="396.9" cy="143.9" r="2.0"/><circle cx="397.6" cy="142.4" r="2.0"/><circle cx="398.4" cy="132.2" r="2.0"/><circle cx="395.8" cy="45.0" r="2.0"/><circle cx="399.1" cy="125.4" r="2.0"/><circle cx="397.9" cy="139.1" r="2.0"/><circle cx="396.3" cy="148.9" r="2.0"/><circle cx="396.2" cy="139.2" r="2.0"/><circle cx="397.1" cy="133.5" r="2.0"/><circle cx="401.3" cy="145.4" r="2.0"/><circle cx="403.5" cy="155.3" r="2.0"/><circle cx="399.5" cy="146.9" r="2.0"/><circle cx="404.7" cy="142.8" r="2.0"/><circle cx="396.9" cy="144.3" r="2.0"/><circle cx="402.5" cy="130.7" r="2.0"/><circle cx="396.6" cy="150.5" r="2.0"/><circle cx="401.2" cy="130.1" r="2.0"/><circle cx="396.3" cy="127.8" r="2.0"/><circle cx="399.3" cy="136.0" r="2.0"/><circle cx="404.0" cy="153.9" r="2.0"/><circle cx="402.7" cy="142.5" r="2.0"/><circle cx="397.5" cy="138.1" r="2.0"/><circle cx="403.4" cy="154.0" r="2.0"/><circle cx="400.1" cy="137.1" r="2.0"/><circle cx="403.3" cy="145.6" r="2.0"/><circle cx="399.4" cy="145.3" r="2.0"/><circle cx="395.7" cy="57.0" r="2.0"/><circle cx="402.5" cy="132.1" r="2.0"/><circle cx="395.7" cy="112.2" r="2.0"/><circle cx="396.8" cy="121.6" r="2.0"/><circle cx="395.6" cy="148.1" r="2.0"/><circle cx="401.1" cy="129.6" r="2.0"/><circle cx="395.9" cy="135.0" r="2.0"/><circle cx="395.7" cy="133.5" r="2.0"/><circle cx="397.2" cy="127.6" r="2.0"/><circle cx="395.7" cy="50.4" r="2.0"/><circle cx="401.9" cy="153.3" r="2.0"/><circle cx="401.4" cy="139.7" r="2.0"/><circle cx="401.3" cy="140.1" r="2.0"/><circle cx="398.1" cy="150.9" r="2.0"/><circle cx="397.9" cy="131.7" r="2.0"/><circle cx="399.7" cy="130.6" r="2.0"/><circle cx="395.6" cy="171.0" r="2.0"/><circle cx="407.3" cy="149.2" r="2.0"/><circle cx="398.5" cy="132.4" r="2.0"/><circle cx="395.5" cy="113.0" r="2.0"/><circle cx="396.2" cy="124.4" r="2.0"/><circle cx="402.1" cy="133.2" r="2.0"/><circle cx="395.6" cy="71.6" r="2.0"/><circle cx="395.8" cy="148.6" r="2.0"/><circle cx="399.6" cy="134.7" r="2.0"/><circle cx="398.0" cy="149.6" r="2.0"/><circle cx="396.9" cy="148.7" r="2.0"/><circle cx="396.0" cy="105.9" r="2.0"/><circle cx="400.3" cy="148.1" r="2.0"/><circle cx="401.4" cy="147.8" r="2.0"/><circle cx="397.5" cy="136.8" r="2.0"/><circle cx="397.6" cy="144.7" r="2.0"/><circle cx="396.7" cy="136.8" r="2.0"/><circle cx="398.0" cy="148.2" r="2.0"/><circle cx="403.3" cy="147.3" r="2.0"/><circle cx="398.6" cy="138.4" r="2.0"/><circle cx="398.2" cy="146.7" r="2.0"/><circle cx="395.5" cy="121.6" r="2.0"/><circle cx="405.6" cy="153.3" r="2.0"/><circle cx="399.3" cy="126.0" r="2.0"/><circle cx="395.8" cy="121.6" r="2.0"/><circle cx="398.7" cy="130.6" r="2.0"/><circle cx="395.9" cy="78.0" r="2.0"/><circle cx="400.4" cy="137.6" r="2.0"/><circle cx="395.5" cy="153.4" r="2.0"/><circle cx="403.4" cy="143.9" r="2.0"/><circle cx="396.0" cy="88.0" r="2.0"/><circle cx="396.2" cy="129.0" r="2.0"/><circle cx="402.2" cy="155.5" r="2.0"/><circle cx="401.4" cy="133.4" r="2.0"/><circle cx="404.9" cy="146.1" r="2.0"/><circle cx="402.2" cy="135.3" r="2.0"/><circle cx="404.2" cy="146.7" r="2.0"/><circle cx="400.6" cy="145.3" r="2.0"/><circle cx="400.8" cy="145.5" r="2.0"/><circle cx="397.6" cy="132.2" r="2.0"/><circle cx="404.4" cy="154.0" r="2.0"/><circle cx="399.1" cy="124.3" r="2.0"/><circle cx="402.0" cy="135.0" r="2.0"/><circle cx="400.2" cy="134.2" r="2.0"/><circle cx="400.7" cy="140.4" r="2.0"/><circle cx="407.0" cy="147.7" r="2.0"/><circle cx="395.7" cy="101.3" r="2.0"/><circle cx="398.6" cy="129.2" r="2.0"/><circle cx="397.7" cy="142.0" r="2.0"/><circle cx="396.7" cy="137.8" r="2.0"/><circle cx="400.6" cy="135.6" r="2.0"/><circle cx="398.9" cy="156.1" r="2.0"/><circle cx="401.3" cy="139.1" r="2.0"/><circle cx="397.8" cy="123.7" r="2.0"/><circle cx="402.2" cy="137.7" r="2.0"/><circle cx="401.2" cy="150.1" r="2.0"/><circle cx="395.5" cy="102.7" r="2.0"/><circle cx="406.7" cy="151.4" r="2.0"/><circle cx="401.6" cy="141.5" r="2.0"/><circle cx="401.2" cy="154.3" r="2.0"/><circle cx="400.7" cy="134.2" r="2.0"/><circle cx="401.9" cy="154.4" r="2.0"/><circle cx="397.2" cy="150.0" r="2.0"/><circle cx="395.8" cy="100.1" r="2.0"/><circle cx="403.4" cy="151.1" r="2.0"/><circle cx="405.0" cy="153.6" r="2.0"/><circle cx="397.5" cy="144.1" r="2.0"/><circle cx="396.5" cy="125.7" r="2.0"/><circle cx="396.1" cy="98.4" r="2.0"/><circle cx="402.2" cy="141.6" r="2.0"/><circle cx="395.9" cy="108.1" r="2.0"/><circle cx="400.5" cy="154.2" r="2.0"/><circle cx="401.7" cy="149.1" r="2.0"/><circle cx="400.8" cy="152.9" r="2.0"/><circle cx="395.6" cy="48.0" r="2.0"/><circle cx="397.7" cy="125.7" r="2.0"/><circle cx="396.5" cy="149.2" r="2.0"/><circle cx="400.0" cy="146.6" r="2.0"/><circle cx="401.1" cy="149.1" r="2.0"/><circle cx="402.0" cy="134.0" r="2.0"/><circle cx="396.3" cy="153.6" r="2.0"/><circle cx="397.7" cy="152.3" r="2.0"/><circle cx="401.2" cy="154.4" r="2.0"/><circle cx="403.7" cy="142.9" r="2.0"/><circle cx="397.1" cy="133.1" r="2.0"/><circle cx="403.7" cy="152.6" r="2.0"/><circle cx="403.0" cy="135.9" r="2.0"/><circle cx="396.1" cy="131.7" r="2.0"/><circle cx="405.5" cy="153.9" r="2.0"/><circle cx="400.1" cy="141.6" r="2.0"/><circle cx="406.2" cy="149.1" r="2.0"/><circle cx="398.0" cy="126.1" r="2.0"/><circle cx="401.3" cy="129.1" r="2.0"/><circle cx="398.6" cy="154.4" r="2.0"/><circle cx="395.6" cy="155.0" r="2.0"/><circle cx="401.4" cy="137.2" r="2.0"/><circle cx="405.1" cy="149.4" r="2.0"/><circle cx="397.2" cy="123.2" r="2.0"/><circle cx="400.6" cy="148.6" r="2.0"/><circle cx="399.1" cy="133.9" r="2.0"/><circle cx="400.8" cy="147.8" r="2.0"/><circle cx="396.6" cy="121.2" r="2.0"/><circle cx="396.1" cy="152.6" r="2.0"/><circle cx="399.7" cy="149.4" r="2.0"/></g>
<path d="M395.60,89.00C395.70,90.83 395.82,96.50 396.20,100.00C396.58,103.50 397.40,107.50 397.90,110.00C398.40,112.50 398.63,113.33 399.20,115.00C399.77,116.67 400.60,118.33 401.30,120.00C402.00,121.67 402.72,123.33 403.40,125.00C404.08,126.67 404.83,128.33 405.40,130.00C405.97,131.67 406.45,133.33 406.80,135.00C407.15,136.67 407.47,138.33 407.50,140.00C407.53,141.67 407.45,143.33 407.00,145.00C406.55,146.67 405.52,148.33 404.80,150.00C404.08,151.67 403.47,153.33 402.70,155.00C401.93,156.67 400.92,158.33 400.20,160.00C399.48,161.67 398.88,163.33 398.40,165.00C397.92,166.67 397.58,168.33 397.30,170.00C397.02,171.67 396.95,172.33 396.70,175.00C396.45,177.67 395.95,184.17 395.80,186.00" fill="none" stroke="#111" stroke-width="1.05"/>
<line x1="385.50" y1="121.4" x2="385.50" y2="156" stroke="#222" stroke-width="1.2"/>
<line x1="381.50" y1="121.4" x2="389.50" y2="121.4" stroke="#222" stroke-width="1.2"/>
<line x1="381.50" y1="156" x2="389.50" y2="156" stroke="#222" stroke-width="1.2"/>
<rect x="377.3" y="136" width="16.40" height="9.30" fill="#f4b064" stroke="#222" stroke-width="1.2"/>
<line x1="377.3" y1="142" x2="393.7" y2="142" stroke="#222" stroke-width="1.2"/>
<rect x="383.30" y="136.10" width="4.4" height="4.4" fill="#f4b064" stroke="#222" stroke-width="1"/>
<g fill="#bcbcbc" stroke="#747474" stroke-width="0.7"><circle cx="446.5" cy="142.4" r="2.0"/><circle cx="453.6" cy="141.1" r="2.0"/><circle cx="449.8" cy="153.1" r="2.0"/><circle cx="452.0" cy="135.5" r="2.0"/><circle cx="450.2" cy="132.5" r="2.0"/><circle cx="451.3" cy="148.3" r="2.0"/><circle cx="446.4" cy="109.0" r="2.0"/><circle cx="446.3" cy="144.4" r="2.0"/><circle cx="446.4" cy="122.0" r="2.0"/><circle cx="453.8" cy="140.4" r="2.0"/><circle cx="448.9" cy="140.3" r="2.0"/><circle cx="453.0" cy="147.5" r="2.0"/><circle cx="447.8" cy="126.4" r="2.0"/><circle cx="447.2" cy="136.8" r="2.0"/><circle cx="448.7" cy="145.4" r="2.0"/><circle cx="454.8" cy="148.6" r="2.0"/><circle cx="449.6" cy="142.7" r="2.0"/><circle cx="454.8" cy="140.6" r="2.0"/><circle cx="449.2" cy="129.8" r="2.0"/><circle cx="455.5" cy="141.8" r="2.0"/><circle cx="454.4" cy="141.0" r="2.0"/><circle cx="453.6" cy="145.5" r="2.0"/><circle cx="450.8" cy="136.8" r="2.0"/><circle cx="446.3" cy="182.0" r="2.0"/><circle cx="450.2" cy="126.9" r="2.0"/><circle cx="447.6" cy="134.1" r="2.0"/><circle cx="452.5" cy="142.5" r="2.0"/><circle cx="455.3" cy="143.5" r="2.0"/><circle cx="446.5" cy="100.0" r="2.0"/><circle cx="447.2" cy="153.0" r="2.0"/><circle cx="450.6" cy="129.5" r="2.0"/><circle cx="457.0" cy="150.2" r="2.0"/><circle cx="446.7" cy="149.0" r="2.0"/><circle cx="449.5" cy="145.2" r="2.0"/><circle cx="453.1" cy="139.9" r="2.0"/><circle cx="457.9" cy="149.3" r="2.0"/><circle cx="449.5" cy="150.2" r="2.0"/><circle cx="446.5" cy="71.6" r="2.0"/><circle cx="453.8" cy="148.2" r="2.0"/><circle cx="450.3" cy="130.6" r="2.0"/><circle cx="452.3" cy="138.2" r="2.0"/><circle cx="451.5" cy="133.6" r="2.0"/><circle cx="447.1" cy="146.4" r="2.0"/><circle cx="452.6" cy="152.1" r="2.0"/><circle cx="449.1" cy="136.2" r="2.0"/><circle cx="454.0" cy="152.9" r="2.0"/><circle cx="447.5" cy="139.7" r="2.0"/><circle cx="457.3" cy="145.5" r="2.0"/><circle cx="447.0" cy="135.3" r="2.0"/><circle cx="451.0" cy="130.6" r="2.0"/><circle cx="446.6" cy="89.0" r="2.0"/><circle cx="446.3" cy="158.0" r="2.0"/><circle cx="446.9" cy="130.7" r="2.0"/><circle cx="450.8" cy="128.9" r="2.0"/><circle cx="456.8" cy="148.0" r="2.0"/><circle cx="448.4" cy="140.4" r="2.0"/><circle cx="446.2" cy="138.8" r="2.0"/><circle cx="454.5" cy="139.7" r="2.0"/><circle cx="448.9" cy="147.3" r="2.0"/><circle cx="447.0" cy="152.1" r="2.0"/><circle cx="446.3" cy="87.0" r="2.0"/><circle cx="447.3" cy="145.7" r="2.0"/><circle cx="450.2" cy="133.7" r="2.0"/><circle cx="446.3" cy="55.6" r="2.0"/><circle cx="450.1" cy="126.1" r="2.0"/><circle cx="450.6" cy="136.0" r="2.0"/><circle cx="452.6" cy="128.5" r="2.0"/><circle cx="451.6" cy="135.6" r="2.0"/><circle cx="451.6" cy="136.1" r="2.0"/><circle cx="450.7" cy="151.6" r="2.0"/><circle cx="454.1" cy="149.7" r="2.0"/><circle cx="452.2" cy="145.8" r="2.0"/><circle cx="451.5" cy="131.0" r="2.0"/><circle cx="451.5" cy="130.7" r="2.0"/><circle cx="447.1" cy="153.6" r="2.0"/><circle cx="454.4" cy="147.3" r="2.0"/><circle cx="452.6" cy="133.3" r="2.0"/><circle cx="452.5" cy="153.9" r="2.0"/><circle cx="450.4" cy="131.0" r="2.0"/><circle cx="452.6" cy="141.3" r="2.0"/><circle cx="451.6" cy="128.3" r="2.0"/><circle cx="448.9" cy="156.5" r="2.0"/><circle cx="446.9" cy="130.7" r="2.0"/><circle cx="446.1" cy="155.6" r="2.0"/><circle cx="453.2" cy="133.0" r="2.0"/><circle cx="457.2" cy="145.6" r="2.0"/><circle cx="447.7" cy="130.6" r="2.0"/><circle cx="452.6" cy="134.9" r="2.0"/><circle cx="448.5" cy="132.0" r="2.0"/><circle cx="446.9" cy="152.6" r="2.0"/><circle cx="450.4" cy="134.0" r="2.0"/><circle cx="447.3" cy="149.7" r="2.0"/><circle cx="456.0" cy="141.4" r="2.0"/><circle cx="448.5" cy="131.8" r="2.0"/><circle cx="449.6" cy="138.8" r="2.0"/><circle cx="449.2" cy="156.5" r="2.0"/><circle cx="452.6" cy="137.8" r="2.0"/><circle cx="450.6" cy="149.6" r="2.0"/><circle cx="455.7" cy="146.4" r="2.0"/><circle cx="450.7" cy="128.3" r="2.0"/><circle cx="449.6" cy="139.4" r="2.0"/><circle cx="446.5" cy="141.3" r="2.0"/><circle cx="448.6" cy="137.9" r="2.0"/><circle cx="457.9" cy="145.4" r="2.0"/><circle cx="447.4" cy="144.5" r="2.0"/><circle cx="449.1" cy="138.0" r="2.0"/><circle cx="448.2" cy="136.1" r="2.0"/><circle cx="449.2" cy="128.9" r="2.0"/><circle cx="446.9" cy="149.8" r="2.0"/><circle cx="453.8" cy="149.0" r="2.0"/><circle cx="448.0" cy="137.8" r="2.0"/><circle cx="453.9" cy="141.5" r="2.0"/><circle cx="447.7" cy="147.6" r="2.0"/><circle cx="447.5" cy="158.1" r="2.0"/><circle cx="451.7" cy="152.0" r="2.0"/><circle cx="447.0" cy="146.9" r="2.0"/><circle cx="453.3" cy="131.0" r="2.0"/><circle cx="458.1" cy="147.0" r="2.0"/><circle cx="448.5" cy="134.9" r="2.0"/><circle cx="448.4" cy="139.0" r="2.0"/><circle cx="446.2" cy="134.9" r="2.0"/><circle cx="451.0" cy="149.4" r="2.0"/><circle cx="446.1" cy="116.0" r="2.0"/><circle cx="447.1" cy="146.5" r="2.0"/><circle cx="448.7" cy="155.9" r="2.0"/><circle cx="454.8" cy="137.5" r="2.0"/><circle cx="447.1" cy="130.5" r="2.0"/><circle cx="446.4" cy="50.0" r="2.0"/><circle cx="447.5" cy="139.6" r="2.0"/><circle cx="451.5" cy="137.7" r="2.0"/><circle cx="446.4" cy="53.0" r="2.0"/><circle cx="451.8" cy="131.9" r="2.0"/><circle cx="450.3" cy="152.4" r="2.0"/></g>
<path d="M446.80,72.00C446.83,73.33 446.80,77.00 447.00,80.00C447.20,83.00 447.83,88.33 448.00,90.00" fill="none" stroke="#888" stroke-width="0.9"/>
<path d="M447.20,180.00C447.08,181.67 446.65,187.17 446.50,190.00C446.35,192.83 446.33,195.83 446.30,197.00" fill="none" stroke="#777" stroke-width="0.9"/>
<path d="M448.00,90.00C448.20,91.67 448.83,97.50 449.20,100.00C449.57,102.50 449.75,103.33 450.20,105.00C450.65,106.67 451.37,108.33 451.90,110.00C452.43,111.67 452.92,113.33 453.40,115.00C453.88,116.67 454.33,118.33 454.80,120.00C455.27,121.67 455.77,123.33 456.20,125.00C456.63,126.67 457.08,128.33 457.40,130.00C457.72,131.67 457.95,133.33 458.10,135.00C458.25,136.67 458.55,138.33 458.30,140.00C458.05,141.67 457.13,143.33 456.60,145.00C456.07,146.67 455.58,148.33 455.10,150.00C454.62,151.67 454.23,153.33 453.70,155.00C453.17,156.67 452.45,158.33 451.90,160.00C451.35,161.67 450.92,163.33 450.40,165.00C449.88,166.67 449.20,168.33 448.80,170.00C448.40,171.67 448.27,173.33 448.00,175.00C447.73,176.67 447.33,179.17 447.20,180.00" fill="none" stroke="#111" stroke-width="1.05"/>
<line x1="436.40" y1="115.6" x2="436.40" y2="160" stroke="#222" stroke-width="1.2"/>
<line x1="432.40" y1="115.6" x2="440.40" y2="115.6" stroke="#222" stroke-width="1.2"/>
<line x1="432.40" y1="160" x2="440.40" y2="160" stroke="#222" stroke-width="1.2"/>
<rect x="428.4" y="132.4" width="16.00" height="13.20" fill="#c4c4c4" stroke="#222" stroke-width="1.2"/>
<line x1="428.4" y1="140" x2="444.4" y2="140" stroke="#222" stroke-width="1.2"/>
<rect x="434.20" y="132.80" width="4.4" height="4.4" fill="#c4c4c4" stroke="#222" stroke-width="1"/>
<g fill="#e69ac8" stroke="#c0508f" stroke-width="0.7"><circle cx="499.3" cy="149.2" r="2.0"/><circle cx="506.3" cy="141.8" r="2.0"/><circle cx="498.2" cy="121.3" r="2.0"/><circle cx="502.1" cy="141.0" r="2.0"/><circle cx="504.0" cy="143.6" r="2.0"/><circle cx="496.9" cy="111.9" r="2.0"/><circle cx="497.8" cy="151.5" r="2.0"/><circle cx="496.9" cy="47.0" r="2.0"/><circle cx="497.7" cy="133.7" r="2.0"/><circle cx="500.7" cy="128.2" r="2.0"/><circle cx="501.8" cy="127.0" r="2.0"/><circle cx="502.8" cy="150.0" r="2.0"/><circle cx="501.9" cy="128.8" r="2.0"/><circle cx="504.3" cy="154.1" r="2.0"/><circle cx="506.1" cy="150.7" r="2.0"/><circle cx="501.1" cy="140.5" r="2.0"/><circle cx="496.7" cy="137.9" r="2.0"/><circle cx="501.4" cy="150.0" r="2.0"/><circle cx="500.1" cy="144.3" r="2.0"/><circle cx="500.2" cy="154.5" r="2.0"/><circle cx="501.6" cy="143.9" r="2.0"/><circle cx="506.4" cy="140.2" r="2.0"/><circle cx="502.0" cy="152.5" r="2.0"/><circle cx="500.5" cy="122.6" r="2.0"/><circle cx="502.7" cy="131.9" r="2.0"/><circle cx="497.7" cy="137.0" r="2.0"/><circle cx="503.0" cy="134.7" r="2.0"/><circle cx="504.5" cy="153.9" r="2.0"/><circle cx="499.8" cy="132.3" r="2.0"/><circle cx="502.6" cy="146.7" r="2.0"/><circle cx="496.8" cy="148.6" r="2.0"/><circle cx="500.1" cy="130.5" r="2.0"/><circle cx="497.7" cy="138.4" r="2.0"/><circle cx="504.1" cy="149.0" r="2.0"/><circle cx="501.2" cy="132.8" r="2.0"/><circle cx="505.5" cy="152.5" r="2.0"/><circle cx="500.5" cy="121.8" r="2.0"/><circle cx="501.3" cy="135.5" r="2.0"/><circle cx="504.8" cy="144.4" r="2.0"/><circle cx="500.5" cy="135.1" r="2.0"/><circle cx="506.4" cy="140.4" r="2.0"/><circle cx="505.3" cy="147.7" r="2.0"/><circle cx="505.7" cy="139.6" r="2.0"/><circle cx="501.5" cy="132.5" r="2.0"/><circle cx="497.6" cy="134.6" r="2.0"/><circle cx="497.7" cy="148.0" r="2.0"/><circle cx="501.0" cy="122.0" r="2.0"/><circle cx="499.8" cy="140.5" r="2.0"/><circle cx="497.1" cy="153.0" r="2.0"/><circle cx="496.9" cy="116.8" r="2.0"/><circle cx="502.8" cy="138.3" r="2.0"/><circle cx="499.5" cy="134.4" r="2.0"/><circle cx="501.0" cy="153.8" r="2.0"/><circle cx="501.6" cy="150.3" r="2.0"/><circle cx="503.0" cy="147.6" r="2.0"/><circle cx="497.1" cy="117.0" r="2.0"/><circle cx="498.4" cy="128.5" r="2.0"/><circle cx="502.5" cy="139.9" r="2.0"/><circle cx="498.0" cy="138.8" r="2.0"/><circle cx="498.9" cy="127.2" r="2.0"/><circle cx="498.0" cy="129.3" r="2.0"/><circle cx="501.0" cy="153.5" r="2.0"/><circle cx="504.1" cy="143.5" r="2.0"/><circle cx="505.5" cy="133.7" r="2.0"/><circle cx="498.8" cy="132.9" r="2.0"/><circle cx="497.4" cy="128.3" r="2.0"/><circle cx="499.7" cy="131.6" r="2.0"/><circle cx="500.9" cy="150.5" r="2.0"/><circle cx="497.0" cy="96.4" r="2.0"/><circle cx="506.4" cy="143.5" r="2.0"/><circle cx="497.1" cy="112.0" r="2.0"/><circle cx="498.1" cy="144.7" r="2.0"/><circle cx="497.1" cy="150.1" r="2.0"/><circle cx="505.4" cy="134.6" r="2.0"/><circle cx="503.6" cy="132.5" r="2.0"/><circle cx="497.7" cy="119.4" r="2.0"/><circle cx="504.4" cy="139.5" r="2.0"/><circle cx="504.4" cy="133.0" r="2.0"/><circle cx="505.2" cy="136.1" r="2.0"/><circle cx="507.3" cy="146.0" r="2.0"/><circle cx="499.0" cy="130.7" r="2.0"/><circle cx="502.2" cy="127.2" r="2.0"/><circle cx="504.1" cy="147.0" r="2.0"/><circle cx="506.8" cy="140.0" r="2.0"/><circle cx="504.9" cy="153.3" r="2.0"/><circle cx="500.7" cy="122.6" r="2.0"/><circle cx="500.7" cy="121.5" r="2.0"/><circle cx="502.9" cy="140.4" r="2.0"/><circle cx="505.0" cy="136.8" r="2.0"/><circle cx="506.3" cy="139.0" r="2.0"/><circle cx="500.7" cy="151.7" r="2.0"/><circle cx="496.8" cy="140.2" r="2.0"/><circle cx="501.4" cy="130.4" r="2.0"/><circle cx="500.6" cy="134.6" r="2.0"/><circle cx="498.5" cy="118.2" r="2.0"/><circle cx="496.7" cy="126.1" r="2.0"/><circle cx="503.0" cy="127.0" r="2.0"/><circle cx="504.9" cy="139.9" r="2.0"/><circle cx="500.7" cy="137.2" r="2.0"/><circle cx="497.3" cy="129.4" r="2.0"/><circle cx="496.9" cy="138.2" r="2.0"/><circle cx="497.2" cy="150.2" r="2.0"/><circle cx="497.0" cy="139.5" r="2.0"/><circle cx="502.4" cy="139.5" r="2.0"/><circle cx="499.3" cy="126.5" r="2.0"/><circle cx="498.3" cy="149.5" r="2.0"/><circle cx="496.6" cy="128.3" r="2.0"/><circle cx="503.5" cy="139.9" r="2.0"/><circle cx="500.8" cy="131.5" r="2.0"/><circle cx="501.2" cy="126.8" r="2.0"/><circle cx="497.0" cy="120.3" r="2.0"/><circle cx="496.9" cy="139.5" r="2.0"/><circle cx="502.7" cy="134.4" r="2.0"/><circle cx="504.0" cy="130.2" r="2.0"/><circle cx="498.2" cy="148.8" r="2.0"/><circle cx="497.5" cy="139.0" r="2.0"/><circle cx="504.8" cy="151.2" r="2.0"/><circle cx="497.6" cy="132.4" r="2.0"/><circle cx="499.5" cy="136.0" r="2.0"/><circle cx="502.5" cy="129.2" r="2.0"/><circle cx="501.2" cy="146.5" r="2.0"/><circle cx="502.9" cy="133.6" r="2.0"/><circle cx="501.6" cy="127.6" r="2.0"/><circle cx="503.0" cy="131.5" r="2.0"/><circle cx="497.7" cy="132.4" r="2.0"/><circle cx="500.1" cy="151.5" r="2.0"/><circle cx="497.7" cy="138.2" r="2.0"/><circle cx="500.7" cy="138.0" r="2.0"/><circle cx="507.4" cy="150.1" r="2.0"/><circle cx="497.4" cy="121.6" r="2.0"/><circle cx="502.3" cy="155.3" r="2.0"/><circle cx="506.5" cy="140.4" r="2.0"/><circle cx="504.4" cy="138.3" r="2.0"/><circle cx="504.0" cy="135.3" r="2.0"/><circle cx="504.9" cy="138.1" r="2.0"/><circle cx="500.1" cy="146.1" r="2.0"/><circle cx="496.9" cy="120.0" r="2.0"/><circle cx="503.3" cy="140.2" r="2.0"/><circle cx="500.6" cy="137.8" r="2.0"/><circle cx="503.1" cy="145.1" r="2.0"/><circle cx="504.8" cy="143.7" r="2.0"/><circle cx="498.2" cy="115.5" r="2.0"/><circle cx="497.4" cy="119.1" r="2.0"/><circle cx="496.8" cy="142.3" r="2.0"/><circle cx="497.9" cy="120.5" r="2.0"/><circle cx="504.0" cy="128.0" r="2.0"/><circle cx="501.6" cy="133.7" r="2.0"/><circle cx="496.7" cy="44.0" r="2.0"/><circle cx="504.0" cy="148.9" r="2.0"/><circle cx="498.9" cy="154.3" r="2.0"/><circle cx="498.5" cy="144.0" r="2.0"/><circle cx="502.4" cy="127.4" r="2.0"/><circle cx="498.6" cy="126.2" r="2.0"/><circle cx="497.7" cy="145.9" r="2.0"/><circle cx="502.2" cy="136.9" r="2.0"/><circle cx="498.7" cy="155.5" r="2.0"/><circle cx="501.2" cy="151.5" r="2.0"/><circle cx="502.9" cy="132.3" r="2.0"/><circle cx="496.6" cy="148.2" r="2.0"/><circle cx="506.4" cy="139.2" r="2.0"/><circle cx="499.0" cy="152.5" r="2.0"/><circle cx="498.4" cy="132.4" r="2.0"/><circle cx="501.3" cy="140.9" r="2.0"/><circle cx="503.5" cy="130.3" r="2.0"/><circle cx="505.0" cy="137.0" r="2.0"/><circle cx="499.8" cy="132.8" r="2.0"/><circle cx="507.1" cy="149.1" r="2.0"/><circle cx="502.4" cy="148.3" r="2.0"/><circle cx="506.9" cy="145.2" r="2.0"/><circle cx="503.7" cy="138.0" r="2.0"/><circle cx="503.1" cy="143.3" r="2.0"/><circle cx="499.7" cy="130.9" r="2.0"/><circle cx="505.2" cy="139.7" r="2.0"/><circle cx="504.5" cy="132.2" r="2.0"/><circle cx="501.4" cy="123.9" r="2.0"/><circle cx="506.5" cy="139.8" r="2.0"/><circle cx="497.2" cy="154.9" r="2.0"/><circle cx="498.7" cy="123.9" r="2.0"/><circle cx="502.5" cy="137.8" r="2.0"/><circle cx="497.8" cy="124.4" r="2.0"/><circle cx="496.5" cy="140.4" r="2.0"/><circle cx="498.2" cy="136.0" r="2.0"/><circle cx="502.8" cy="149.9" r="2.0"/><circle cx="497.6" cy="115.1" r="2.0"/><circle cx="498.5" cy="144.2" r="2.0"/><circle cx="502.5" cy="154.3" r="2.0"/><circle cx="498.7" cy="146.3" r="2.0"/><circle cx="506.4" cy="146.1" r="2.0"/><circle cx="498.3" cy="137.5" r="2.0"/><circle cx="503.8" cy="146.5" r="2.0"/><circle cx="501.2" cy="127.9" r="2.0"/><circle cx="504.8" cy="142.9" r="2.0"/><circle cx="498.9" cy="144.9" r="2.0"/><circle cx="501.1" cy="133.2" r="2.0"/><circle cx="496.8" cy="117.6" r="2.0"/><circle cx="507.6" cy="150.4" r="2.0"/><circle cx="502.5" cy="139.8" r="2.0"/><circle cx="499.7" cy="145.6" r="2.0"/><circle cx="502.5" cy="145.8" r="2.0"/><circle cx="503.5" cy="152.8" r="2.0"/><circle cx="499.3" cy="153.3" r="2.0"/><circle cx="499.6" cy="149.7" r="2.0"/><circle cx="506.3" cy="145.3" r="2.0"/><circle cx="499.1" cy="123.4" r="2.0"/><circle cx="505.7" cy="152.5" r="2.0"/><circle cx="496.8" cy="120.2" r="2.0"/><circle cx="500.3" cy="134.6" r="2.0"/><circle cx="496.9" cy="112.7" r="2.0"/></g>
<path d="M497.20,82.00C497.30,83.33 497.57,87.33 497.80,90.00C498.03,92.67 498.33,95.50 498.60,98.00C498.87,100.50 498.97,103.00 499.40,105.00C499.83,107.00 500.62,108.33 501.20,110.00C501.78,111.67 502.32,113.33 502.90,115.00C503.48,116.67 504.12,118.33 504.70,120.00C505.28,121.67 505.88,123.33 506.40,125.00C506.92,126.67 507.40,128.33 507.80,130.00C508.20,131.67 508.62,133.33 508.80,135.00C508.98,136.67 509.10,138.33 508.90,140.00C508.70,141.67 508.12,143.33 507.60,145.00C507.08,146.67 506.48,148.33 505.80,150.00C505.12,151.67 504.17,153.33 503.50,155.00C502.83,156.67 502.35,158.33 501.80,160.00C501.25,161.67 500.70,163.33 500.20,165.00C499.70,166.67 499.17,168.33 498.80,170.00C498.43,171.67 498.22,173.33 498.00,175.00C497.78,176.67 497.67,177.67 497.50,180.00C497.33,182.33 497.08,187.50 497.00,189.00" fill="none" stroke="#111" stroke-width="1.05"/>
<line x1="487.30" y1="108.6" x2="487.30" y2="156" stroke="#222" stroke-width="1.2"/>
<line x1="483.30" y1="108.6" x2="491.30" y2="108.6" stroke="#222" stroke-width="1.2"/>
<line x1="483.30" y1="156" x2="491.30" y2="156" stroke="#222" stroke-width="1.2"/>
<rect x="479.6" y="129" width="15.40" height="16.00" fill="#eeaad0" stroke="#222" stroke-width="1.2"/>
<line x1="479.6" y1="138.6" x2="495" y2="138.6" stroke="#222" stroke-width="1.2"/>
<rect x="485.10" y="131.80" width="4.4" height="4.4" fill="#eeaad0" stroke="#222" stroke-width="1"/>
<path d="M66.5,29.7 H522 V243 H66.5 Z" fill="none" stroke="#111" stroke-width="1.6"/>
<line x1="60.0" y1="228.50" x2="66.5" y2="228.50" stroke="#111" stroke-width="1.3"/>
<text transform="translate(55.8,232.00) scale(1,1.08)" text-anchor="end" font-family="Liberation Serif" font-size="13" fill="#000">-60</text>
<line x1="60.0" y1="199.00" x2="66.5" y2="199.00" stroke="#111" stroke-width="1.3"/>
<text transform="translate(55.8,202.50) scale(1,1.08)" text-anchor="end" font-family="Liberation Serif" font-size="13" fill="#000">-40</text>
<line x1="60.0" y1="169.50" x2="66.5" y2="169.50" stroke="#111" stroke-width="1.3"/>
<text transform="translate(55.8,173.00) scale(1,1.08)" text-anchor="end" font-family="Liberation Serif" font-size="13" fill="#000">-20</text>
<line x1="60.0" y1="140.00" x2="66.5" y2="140.00" stroke="#111" stroke-width="1.3"/>
<text transform="translate(55.8,143.50) scale(1,1.08)" text-anchor="end" font-family="Liberation Serif" font-size="13" fill="#000">0</text>
<line x1="60.0" y1="110.50" x2="66.5" y2="110.50" stroke="#111" stroke-width="1.3"/>
<text transform="translate(55.8,114.00) scale(1,1.08)" text-anchor="end" font-family="Liberation Serif" font-size="13" fill="#000">20</text>
<line x1="60.0" y1="81.00" x2="66.5" y2="81.00" stroke="#111" stroke-width="1.3"/>
<text transform="translate(55.8,84.50) scale(1,1.08)" text-anchor="end" font-family="Liberation Serif" font-size="13" fill="#000">40</text>
<line x1="60.0" y1="51.50" x2="66.5" y2="51.50" stroke="#111" stroke-width="1.3"/>
<text transform="translate(55.8,55.00) scale(1,1.08)" text-anchor="end" font-family="Liberation Serif" font-size="13" fill="#000">60</text>
<line x1="63.0" y1="243.25" x2="66.5" y2="243.25" stroke="#111" stroke-width="1.3"/>
<line x1="63.0" y1="213.75" x2="66.5" y2="213.75" stroke="#111" stroke-width="1.3"/>
<line x1="63.0" y1="184.25" x2="66.5" y2="184.25" stroke="#111" stroke-width="1.3"/>
<line x1="63.0" y1="154.75" x2="66.5" y2="154.75" stroke="#111" stroke-width="1.3"/>
<line x1="63.0" y1="125.25" x2="66.5" y2="125.25" stroke="#111" stroke-width="1.3"/>
<line x1="63.0" y1="95.75" x2="66.5" y2="95.75" stroke="#111" stroke-width="1.3"/>
<line x1="63.0" y1="66.25" x2="66.5" y2="66.25" stroke="#111" stroke-width="1.3"/>
<line x1="63.0" y1="36.75" x2="66.5" y2="36.75" stroke="#111" stroke-width="1.3"/>
<line x1="91.90" y1="243" x2="91.90" y2="249" stroke="#111" stroke-width="1.5"/>
<text transform="translate(91.95,263.6) scale(1,1.05)" text-anchor="middle" font-family="Liberation Serif" font-size="12" letter-spacing="0.1" fill="#000">Train</text>
<line x1="142.44" y1="243" x2="142.44" y2="249" stroke="#111" stroke-width="1.5"/>
<text transform="translate(142.64,263.6) scale(1,1.05)" text-anchor="middle" font-family="Liberation Serif" font-size="12" letter-spacing="0.4" fill="#000">Validation</text>
<line x1="192.98" y1="243" x2="192.98" y2="249" stroke="#111" stroke-width="1.5"/>
<text transform="translate(193.18,263.6) scale(1,1.05)" text-anchor="middle" font-family="Liberation Serif" font-size="12" letter-spacing="0.4" fill="#000">Test</text>
<line x1="243.52" y1="243" x2="243.52" y2="249" stroke="#111" stroke-width="1.5"/>
<text transform="translate(243.57,263.6) scale(1,1.05)" text-anchor="middle" font-family="Liberation Serif" font-size="12" letter-spacing="0.1" fill="#000">Train</text>
<line x1="294.06" y1="243" x2="294.06" y2="249" stroke="#111" stroke-width="1.5"/>
<text transform="translate(294.26,263.6) scale(1,1.05)" text-anchor="middle" font-family="Liberation Serif" font-size="12" letter-spacing="0.4" fill="#000">Validation</text>
<line x1="344.60" y1="243" x2="344.60" y2="249" stroke="#111" stroke-width="1.5"/>
<text transform="translate(344.80,263.6) scale(1,1.05)" text-anchor="middle" font-family="Liberation Serif" font-size="12" letter-spacing="0.4" fill="#000">Test</text>
<line x1="395.14" y1="243" x2="395.14" y2="249" stroke="#111" stroke-width="1.5"/>
<text transform="translate(395.19,263.6) scale(1,1.05)" text-anchor="middle" font-family="Liberation Serif" font-size="12" letter-spacing="0.1" fill="#000">Train</text>
<line x1="445.68" y1="243" x2="445.68" y2="249" stroke="#111" stroke-width="1.5"/>
<text transform="translate(445.88,263.6) scale(1,1.05)" text-anchor="middle" font-family="Liberation Serif" font-size="12" letter-spacing="0.4" fill="#000">Validation</text>
<line x1="496.22" y1="243" x2="496.22" y2="249" stroke="#111" stroke-width="1.5"/>
<text transform="translate(496.42,263.6) scale(1,1.05)" text-anchor="middle" font-family="Liberation Serif" font-size="12" letter-spacing="0.4" fill="#000">Test</text>
<text transform="translate(32.3,136.3) rotate(-90)" text-anchor="middle" font-family="Liberation Serif" font-size="13.5" letter-spacing="0.3" fill="#000">Error (%)</text>
<rect x="131.5" y="221.5" width="24.0" height="18" fill="#fff" stroke="#b0b0b0" stroke-width="1"/>
<text x="133" y="234.8" textLength="19.2" lengthAdjust="spacingAndGlyphs" font-family="Liberation Serif" font-size="11.2" fill="#000" stroke="#000" stroke-width="0.25">GPR</text>
<rect x="279.5" y="221.5" width="31.0" height="18" fill="#fff" stroke="#b0b0b0" stroke-width="1"/>
<text x="281.5" y="234.8" textLength="27.0" lengthAdjust="spacingAndGlyphs" font-family="Liberation Serif" font-size="11.2" fill="#000" stroke="#000" stroke-width="0.25">GPPV</text>
<rect x="430.5" y="221.5" width="30.0" height="18" fill="#fff" stroke="#b0b0b0" stroke-width="1"/>
<text x="432" y="234.8" textLength="26.5" lengthAdjust="spacingAndGlyphs" font-family="Liberation Serif" font-size="11.2" fill="#000" stroke="#000" stroke-width="0.25">GPFD</text>
</svg>
</body></html>
